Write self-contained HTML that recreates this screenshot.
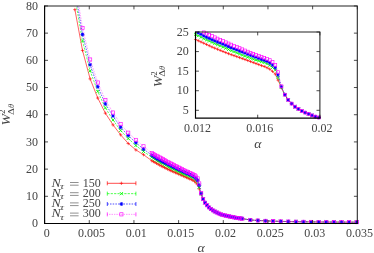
<!DOCTYPE html>
<html><head><meta charset="utf-8"><title>plot</title><style>html,body{margin:0;padding:0;background:#fff}body{width:374px;height:253px;overflow:hidden;font-family:"Liberation Serif",serif}svg{display:block;will-change:transform}</style></head><body>
<svg width="374" height="253" viewBox="0 0 374 253">
<defs><clipPath id="cm"><rect x="44.6" y="5.95" width="312.7" height="219.05"/></clipPath><clipPath id="ci"><rect x="195.5" y="32.0" width="125.39999999999998" height="87.1"/></clipPath></defs>
<rect width="374" height="253" fill="#fff"/>
<g clip-path="url(#cm)">
<path d="M74.90 9.60L82.52 50.50L90.14 78.90L97.76 98.00L105.38 113.20L113.00 124.90L120.62 134.80L128.24 143.50L135.86 149.90L143.48 154.70L151.81 160.73L153.39 161.57L154.97 162.42L156.55 163.27L158.13 164.15L159.71 165.04L161.29 165.93L162.87 166.71L164.45 167.49L166.03 168.26L167.61 169.04L169.19 169.81L170.77 170.57L172.35 171.25L173.93 171.93L175.51 172.61L177.09 173.29L178.67 173.97L180.25 174.65L181.83 175.34L183.41 176.04L184.99 176.74L186.57 177.45L188.15 178.15L189.73 178.86L191.31 179.46L192.89 180.34L194.47 181.33L196.05 182.88L197.63 184.72L199.21 188.93L201.17 194.27L203.12 199.07L205.07 202.68L207.03 205.25L208.98 207.40L210.93 209.00L212.89 210.39L214.84 211.50L216.79 212.47L218.75 213.45L220.70 214.28L222.65 214.90L224.61 215.36L226.56 215.81L228.51 216.26L230.47 216.71L232.42 217.09L234.37 217.47L236.33 217.86L238.28 218.13L240.24 218.39L242.19 218.64L250.30 219.97L257.90 220.49L265.50 220.84L273.10 221.15L280.70 221.38L288.30 221.56L295.90 221.71L303.50 221.81L311.10 221.90L318.70 221.98L326.30 222.03L333.90 222.08L341.50 222.12L349.10 222.14L356.70 222.16" stroke="#ff0000" stroke-width="0.62" fill="none"/>
</g>
<path d="M73.20 9.60H76.60M74.90 7.90V11.30" stroke="#ff0000" stroke-width="0.6" fill="none"/>
<path d="M80.82 50.50H84.22M82.52 48.80V52.20" stroke="#ff0000" stroke-width="0.6" fill="none"/>
<path d="M88.44 78.90H91.84M90.14 77.20V80.60" stroke="#ff0000" stroke-width="0.6" fill="none"/>
<path d="M96.06 98.00H99.46M97.76 96.30V99.70" stroke="#ff0000" stroke-width="0.6" fill="none"/>
<path d="M103.68 113.20H107.08M105.38 111.50V114.90" stroke="#ff0000" stroke-width="0.6" fill="none"/>
<path d="M111.30 124.90H114.70M113.00 123.20V126.60" stroke="#ff0000" stroke-width="0.6" fill="none"/>
<path d="M118.92 134.80H122.32M120.62 133.10V136.50" stroke="#ff0000" stroke-width="0.6" fill="none"/>
<path d="M126.54 143.50H129.94M128.24 141.80V145.20" stroke="#ff0000" stroke-width="0.6" fill="none"/>
<path d="M134.16 149.90H137.56M135.86 148.20V151.60" stroke="#ff0000" stroke-width="0.6" fill="none"/>
<path d="M141.78 154.70H145.18M143.48 153.00V156.40" stroke="#ff0000" stroke-width="0.6" fill="none"/>
<path d="M150.11 160.73H153.51M151.81 159.03V162.43" stroke="#ff0000" stroke-width="0.6" fill="none"/>
<path d="M151.69 161.57H155.09M153.39 159.87V163.27" stroke="#ff0000" stroke-width="0.6" fill="none"/>
<path d="M153.27 162.42H156.67M154.97 160.72V164.12" stroke="#ff0000" stroke-width="0.6" fill="none"/>
<path d="M154.85 163.27H158.25M156.55 161.57V164.97" stroke="#ff0000" stroke-width="0.6" fill="none"/>
<path d="M156.43 164.15H159.83M158.13 162.45V165.85" stroke="#ff0000" stroke-width="0.6" fill="none"/>
<path d="M158.01 165.04H161.41M159.71 163.34V166.74" stroke="#ff0000" stroke-width="0.6" fill="none"/>
<path d="M159.59 165.93H162.99M161.29 164.23V167.63" stroke="#ff0000" stroke-width="0.6" fill="none"/>
<path d="M161.17 166.71H164.57M162.87 165.01V168.41" stroke="#ff0000" stroke-width="0.6" fill="none"/>
<path d="M162.75 167.49H166.15M164.45 165.79V169.19" stroke="#ff0000" stroke-width="0.6" fill="none"/>
<path d="M164.33 168.26H167.73M166.03 166.56V169.96" stroke="#ff0000" stroke-width="0.6" fill="none"/>
<path d="M165.91 169.04H169.31M167.61 167.34V170.74" stroke="#ff0000" stroke-width="0.6" fill="none"/>
<path d="M167.49 169.81H170.89M169.19 168.11V171.51" stroke="#ff0000" stroke-width="0.6" fill="none"/>
<path d="M169.07 170.57H172.47M170.77 168.87V172.27" stroke="#ff0000" stroke-width="0.6" fill="none"/>
<path d="M170.65 171.25H174.05M172.35 169.55V172.95" stroke="#ff0000" stroke-width="0.6" fill="none"/>
<path d="M172.23 171.93H175.63M173.93 170.23V173.63" stroke="#ff0000" stroke-width="0.6" fill="none"/>
<path d="M173.81 172.61H177.21M175.51 170.91V174.31" stroke="#ff0000" stroke-width="0.6" fill="none"/>
<path d="M175.39 173.29H178.79M177.09 171.59V174.99" stroke="#ff0000" stroke-width="0.6" fill="none"/>
<path d="M176.97 173.97H180.37M178.67 172.27V175.67" stroke="#ff0000" stroke-width="0.6" fill="none"/>
<path d="M178.55 174.65H181.95M180.25 172.95V176.35" stroke="#ff0000" stroke-width="0.6" fill="none"/>
<path d="M180.13 175.34H183.53M181.83 173.64V177.04" stroke="#ff0000" stroke-width="0.6" fill="none"/>
<path d="M181.71 176.04H185.11M183.41 174.34V177.74" stroke="#ff0000" stroke-width="0.6" fill="none"/>
<path d="M183.29 176.74H186.69M184.99 175.04V178.44" stroke="#ff0000" stroke-width="0.6" fill="none"/>
<path d="M184.87 177.45H188.27M186.57 175.75V179.15" stroke="#ff0000" stroke-width="0.6" fill="none"/>
<path d="M186.45 178.15H189.85M188.15 176.45V179.85" stroke="#ff0000" stroke-width="0.6" fill="none"/>
<path d="M188.03 178.86H191.43M189.73 177.16V180.56" stroke="#ff0000" stroke-width="0.6" fill="none"/>
<path d="M189.61 179.46H193.01M191.31 177.76V181.16" stroke="#ff0000" stroke-width="0.6" fill="none"/>
<path d="M191.19 180.34H194.59M192.89 178.64V182.04" stroke="#ff0000" stroke-width="0.6" fill="none"/>
<path d="M192.77 181.33H196.17M194.47 179.63V183.03" stroke="#ff0000" stroke-width="0.6" fill="none"/>
<path d="M194.35 182.88H197.75M196.05 181.18V184.58" stroke="#ff0000" stroke-width="0.6" fill="none"/>
<path d="M195.93 184.72H199.33M197.63 183.02V186.42" stroke="#ff0000" stroke-width="0.6" fill="none"/>
<path d="M197.51 188.93H200.91M199.21 187.23V190.63" stroke="#ff0000" stroke-width="0.6" fill="none"/>
<path d="M199.47 194.27H202.87M201.17 192.57V195.97" stroke="#ff0000" stroke-width="0.6" fill="none"/>
<path d="M201.42 199.07H204.82M203.12 197.37V200.77" stroke="#ff0000" stroke-width="0.6" fill="none"/>
<path d="M203.37 202.68H206.77M205.07 200.98V204.38" stroke="#ff0000" stroke-width="0.6" fill="none"/>
<path d="M205.33 205.25H208.73M207.03 203.55V206.95" stroke="#ff0000" stroke-width="0.6" fill="none"/>
<path d="M207.28 207.40H210.68M208.98 205.70V209.10" stroke="#ff0000" stroke-width="0.6" fill="none"/>
<path d="M209.23 209.00H212.63M210.93 207.30V210.70" stroke="#ff0000" stroke-width="0.6" fill="none"/>
<path d="M211.19 210.39H214.59M212.89 208.69V212.09" stroke="#ff0000" stroke-width="0.6" fill="none"/>
<path d="M213.14 211.50H216.54M214.84 209.80V213.20" stroke="#ff0000" stroke-width="0.6" fill="none"/>
<path d="M215.09 212.47H218.49M216.79 210.77V214.17" stroke="#ff0000" stroke-width="0.6" fill="none"/>
<path d="M217.05 213.45H220.45M218.75 211.75V215.15" stroke="#ff0000" stroke-width="0.6" fill="none"/>
<path d="M219.00 214.28H222.40M220.70 212.58V215.98" stroke="#ff0000" stroke-width="0.6" fill="none"/>
<path d="M220.95 214.90H224.35M222.65 213.20V216.60" stroke="#ff0000" stroke-width="0.6" fill="none"/>
<path d="M222.91 215.36H226.31M224.61 213.66V217.06" stroke="#ff0000" stroke-width="0.6" fill="none"/>
<path d="M224.86 215.81H228.26M226.56 214.11V217.51" stroke="#ff0000" stroke-width="0.6" fill="none"/>
<path d="M226.81 216.26H230.21M228.51 214.56V217.96" stroke="#ff0000" stroke-width="0.6" fill="none"/>
<path d="M228.77 216.71H232.17M230.47 215.01V218.41" stroke="#ff0000" stroke-width="0.6" fill="none"/>
<path d="M230.72 217.09H234.12M232.42 215.39V218.79" stroke="#ff0000" stroke-width="0.6" fill="none"/>
<path d="M232.67 217.47H236.07M234.37 215.77V219.17" stroke="#ff0000" stroke-width="0.6" fill="none"/>
<path d="M234.63 217.86H238.03M236.33 216.16V219.56" stroke="#ff0000" stroke-width="0.6" fill="none"/>
<path d="M236.58 218.13H239.98M238.28 216.43V219.83" stroke="#ff0000" stroke-width="0.6" fill="none"/>
<path d="M238.54 218.39H241.94M240.24 216.69V220.09" stroke="#ff0000" stroke-width="0.6" fill="none"/>
<path d="M240.49 218.64H243.89M242.19 216.94V220.34" stroke="#ff0000" stroke-width="0.6" fill="none"/>
<path d="M248.60 219.97H252.00M250.30 218.27V221.67" stroke="#ff0000" stroke-width="0.6" fill="none"/>
<path d="M256.20 220.49H259.60M257.90 218.79V222.19" stroke="#ff0000" stroke-width="0.6" fill="none"/>
<path d="M263.80 220.84H267.20M265.50 219.14V222.54" stroke="#ff0000" stroke-width="0.6" fill="none"/>
<path d="M271.40 221.15H274.80M273.10 219.45V222.85" stroke="#ff0000" stroke-width="0.6" fill="none"/>
<path d="M279.00 221.38H282.40M280.70 219.68V223.08" stroke="#ff0000" stroke-width="0.6" fill="none"/>
<path d="M286.60 221.56H290.00M288.30 219.86V223.26" stroke="#ff0000" stroke-width="0.6" fill="none"/>
<path d="M294.20 221.71H297.60M295.90 220.01V223.41" stroke="#ff0000" stroke-width="0.6" fill="none"/>
<path d="M301.80 221.81H305.20M303.50 220.11V223.51" stroke="#ff0000" stroke-width="0.6" fill="none"/>
<path d="M309.40 221.90H312.80M311.10 220.20V223.60" stroke="#ff0000" stroke-width="0.6" fill="none"/>
<path d="M317.00 221.98H320.40M318.70 220.28V223.68" stroke="#ff0000" stroke-width="0.6" fill="none"/>
<path d="M324.60 222.03H328.00M326.30 220.33V223.73" stroke="#ff0000" stroke-width="0.6" fill="none"/>
<path d="M332.20 222.08H335.60M333.90 220.38V223.78" stroke="#ff0000" stroke-width="0.6" fill="none"/>
<path d="M339.80 222.12H343.20M341.50 220.42V223.82" stroke="#ff0000" stroke-width="0.6" fill="none"/>
<path d="M347.40 222.14H350.80M349.10 220.44V223.84" stroke="#ff0000" stroke-width="0.6" fill="none"/>
<path d="M355.00 222.16H358.40M356.70 220.46V223.86" stroke="#ff0000" stroke-width="0.6" fill="none"/>
<g clip-path="url(#cm)">
<path d="M74.90 -2.60L82.52 40.90L90.14 70.90L97.76 91.50L105.38 107.90L113.00 120.00L120.62 130.50L128.24 138.50L135.86 145.50L143.48 151.50L151.81 157.11L153.39 158.12L154.97 159.14L156.55 160.15L158.13 161.00L159.71 161.84L161.29 162.68L162.87 163.52L164.45 164.35L166.03 165.19L167.61 166.02L169.19 166.85L170.77 167.67L172.35 168.44L173.93 169.21L175.51 169.99L177.09 170.76L178.67 171.54L180.25 172.32L181.83 173.06L183.41 173.73L184.99 174.40L186.57 175.02L188.15 175.57L189.73 176.12L191.31 176.72L192.89 177.53L194.47 178.68L196.05 180.14L197.63 181.96L199.21 187.12L201.17 193.93L203.12 199.07L205.07 202.68L207.03 205.25L208.98 207.40L210.93 209.00L212.89 210.39L214.84 211.50L216.79 212.47L218.75 213.45L220.70 214.28L222.65 214.90L224.61 215.36L226.56 215.81L228.51 216.26L230.47 216.71L232.42 217.09L234.37 217.47L236.33 217.86L238.28 218.13L240.24 218.39L242.19 218.64L250.30 219.97L257.90 220.49L265.50 220.84L273.10 221.15L280.70 221.38L288.30 221.56L295.90 221.71L303.50 221.81L311.10 221.90L318.70 221.98L326.30 222.03L333.90 222.08L341.50 222.12L349.10 222.14L356.70 222.16" stroke="#00ff00" stroke-width="0.62" fill="none" stroke-dasharray="2.2,1.2"/>
</g>
<path d="M80.92 39.30L84.12 42.50M80.92 42.50L84.12 39.30" stroke="#00ff00" stroke-width="0.85" fill="none"/>
<path d="M88.54 69.30L91.74 72.50M88.54 72.50L91.74 69.30" stroke="#00ff00" stroke-width="0.85" fill="none"/>
<path d="M96.16 89.90L99.36 93.10M96.16 93.10L99.36 89.90" stroke="#00ff00" stroke-width="0.85" fill="none"/>
<path d="M103.78 106.30L106.98 109.50M103.78 109.50L106.98 106.30" stroke="#00ff00" stroke-width="0.85" fill="none"/>
<path d="M111.40 118.40L114.60 121.60M111.40 121.60L114.60 118.40" stroke="#00ff00" stroke-width="0.85" fill="none"/>
<path d="M119.02 128.90L122.22 132.10M119.02 132.10L122.22 128.90" stroke="#00ff00" stroke-width="0.85" fill="none"/>
<path d="M126.64 136.90L129.84 140.10M126.64 140.10L129.84 136.90" stroke="#00ff00" stroke-width="0.85" fill="none"/>
<path d="M134.26 143.90L137.46 147.10M134.26 147.10L137.46 143.90" stroke="#00ff00" stroke-width="0.85" fill="none"/>
<path d="M141.88 149.90L145.08 153.10M141.88 153.10L145.08 149.90" stroke="#00ff00" stroke-width="0.85" fill="none"/>
<path d="M150.21 155.51L153.41 158.71M150.21 158.71L153.41 155.51" stroke="#00ff00" stroke-width="0.85" fill="none"/>
<path d="M151.79 156.52L154.99 159.72M151.79 159.72L154.99 156.52" stroke="#00ff00" stroke-width="0.85" fill="none"/>
<path d="M153.37 157.54L156.57 160.74M153.37 160.74L156.57 157.54" stroke="#00ff00" stroke-width="0.85" fill="none"/>
<path d="M154.95 158.55L158.15 161.75M154.95 161.75L158.15 158.55" stroke="#00ff00" stroke-width="0.85" fill="none"/>
<path d="M156.53 159.40L159.73 162.60M156.53 162.60L159.73 159.40" stroke="#00ff00" stroke-width="0.85" fill="none"/>
<path d="M158.11 160.24L161.31 163.44M158.11 163.44L161.31 160.24" stroke="#00ff00" stroke-width="0.85" fill="none"/>
<path d="M159.69 161.08L162.89 164.28M159.69 164.28L162.89 161.08" stroke="#00ff00" stroke-width="0.85" fill="none"/>
<path d="M161.27 161.92L164.47 165.12M161.27 165.12L164.47 161.92" stroke="#00ff00" stroke-width="0.85" fill="none"/>
<path d="M162.85 162.75L166.05 165.95M162.85 165.95L166.05 162.75" stroke="#00ff00" stroke-width="0.85" fill="none"/>
<path d="M164.43 163.59L167.63 166.79M164.43 166.79L167.63 163.59" stroke="#00ff00" stroke-width="0.85" fill="none"/>
<path d="M166.01 164.42L169.21 167.62M166.01 167.62L169.21 164.42" stroke="#00ff00" stroke-width="0.85" fill="none"/>
<path d="M167.59 165.25L170.79 168.45M167.59 168.45L170.79 165.25" stroke="#00ff00" stroke-width="0.85" fill="none"/>
<path d="M169.17 166.07L172.37 169.27M169.17 169.27L172.37 166.07" stroke="#00ff00" stroke-width="0.85" fill="none"/>
<path d="M170.75 166.84L173.95 170.04M170.75 170.04L173.95 166.84" stroke="#00ff00" stroke-width="0.85" fill="none"/>
<path d="M172.33 167.61L175.53 170.81M172.33 170.81L175.53 167.61" stroke="#00ff00" stroke-width="0.85" fill="none"/>
<path d="M173.91 168.39L177.11 171.59M173.91 171.59L177.11 168.39" stroke="#00ff00" stroke-width="0.85" fill="none"/>
<path d="M175.49 169.16L178.69 172.36M175.49 172.36L178.69 169.16" stroke="#00ff00" stroke-width="0.85" fill="none"/>
<path d="M177.07 169.94L180.27 173.14M177.07 173.14L180.27 169.94" stroke="#00ff00" stroke-width="0.85" fill="none"/>
<path d="M178.65 170.72L181.85 173.92M178.65 173.92L181.85 170.72" stroke="#00ff00" stroke-width="0.85" fill="none"/>
<path d="M180.23 171.46L183.43 174.66M180.23 174.66L183.43 171.46" stroke="#00ff00" stroke-width="0.85" fill="none"/>
<path d="M181.81 172.13L185.01 175.33M181.81 175.33L185.01 172.13" stroke="#00ff00" stroke-width="0.85" fill="none"/>
<path d="M183.39 172.80L186.59 176.00M183.39 176.00L186.59 172.80" stroke="#00ff00" stroke-width="0.85" fill="none"/>
<path d="M184.97 173.42L188.17 176.62M184.97 176.62L188.17 173.42" stroke="#00ff00" stroke-width="0.85" fill="none"/>
<path d="M186.55 173.97L189.75 177.17M186.55 177.17L189.75 173.97" stroke="#00ff00" stroke-width="0.85" fill="none"/>
<path d="M188.13 174.52L191.33 177.72M188.13 177.72L191.33 174.52" stroke="#00ff00" stroke-width="0.85" fill="none"/>
<path d="M189.71 175.12L192.91 178.32M189.71 178.32L192.91 175.12" stroke="#00ff00" stroke-width="0.85" fill="none"/>
<path d="M191.29 175.93L194.49 179.13M191.29 179.13L194.49 175.93" stroke="#00ff00" stroke-width="0.85" fill="none"/>
<path d="M192.87 177.08L196.07 180.28M192.87 180.28L196.07 177.08" stroke="#00ff00" stroke-width="0.85" fill="none"/>
<path d="M194.45 178.54L197.65 181.74M194.45 181.74L197.65 178.54" stroke="#00ff00" stroke-width="0.85" fill="none"/>
<path d="M196.03 180.36L199.23 183.56M196.03 183.56L199.23 180.36" stroke="#00ff00" stroke-width="0.85" fill="none"/>
<path d="M197.61 185.52L200.81 188.72M197.61 188.72L200.81 185.52" stroke="#00ff00" stroke-width="0.85" fill="none"/>
<path d="M199.57 192.33L202.77 195.53M199.57 195.53L202.77 192.33" stroke="#00ff00" stroke-width="0.85" fill="none"/>
<path d="M201.52 197.47L204.72 200.67M201.52 200.67L204.72 197.47" stroke="#00ff00" stroke-width="0.85" fill="none"/>
<path d="M203.47 201.08L206.67 204.28M203.47 204.28L206.67 201.08" stroke="#00ff00" stroke-width="0.85" fill="none"/>
<path d="M205.43 203.65L208.63 206.85M205.43 206.85L208.63 203.65" stroke="#00ff00" stroke-width="0.85" fill="none"/>
<path d="M207.38 205.80L210.58 209.00M207.38 209.00L210.58 205.80" stroke="#00ff00" stroke-width="0.85" fill="none"/>
<path d="M209.33 207.40L212.53 210.60M209.33 210.60L212.53 207.40" stroke="#00ff00" stroke-width="0.85" fill="none"/>
<path d="M211.29 208.79L214.49 211.99M211.29 211.99L214.49 208.79" stroke="#00ff00" stroke-width="0.85" fill="none"/>
<path d="M213.24 209.90L216.44 213.10M213.24 213.10L216.44 209.90" stroke="#00ff00" stroke-width="0.85" fill="none"/>
<path d="M215.19 210.87L218.39 214.07M215.19 214.07L218.39 210.87" stroke="#00ff00" stroke-width="0.85" fill="none"/>
<path d="M217.15 211.85L220.35 215.05M217.15 215.05L220.35 211.85" stroke="#00ff00" stroke-width="0.85" fill="none"/>
<path d="M219.10 212.68L222.30 215.88M219.10 215.88L222.30 212.68" stroke="#00ff00" stroke-width="0.85" fill="none"/>
<path d="M221.05 213.30L224.25 216.50M221.05 216.50L224.25 213.30" stroke="#00ff00" stroke-width="0.85" fill="none"/>
<path d="M223.01 213.76L226.21 216.96M223.01 216.96L226.21 213.76" stroke="#00ff00" stroke-width="0.85" fill="none"/>
<path d="M224.96 214.21L228.16 217.41M224.96 217.41L228.16 214.21" stroke="#00ff00" stroke-width="0.85" fill="none"/>
<path d="M226.91 214.66L230.11 217.86M226.91 217.86L230.11 214.66" stroke="#00ff00" stroke-width="0.85" fill="none"/>
<path d="M228.87 215.11L232.07 218.31M228.87 218.31L232.07 215.11" stroke="#00ff00" stroke-width="0.85" fill="none"/>
<path d="M230.82 215.49L234.02 218.69M230.82 218.69L234.02 215.49" stroke="#00ff00" stroke-width="0.85" fill="none"/>
<path d="M232.77 215.87L235.97 219.07M232.77 219.07L235.97 215.87" stroke="#00ff00" stroke-width="0.85" fill="none"/>
<path d="M234.73 216.26L237.93 219.46M234.73 219.46L237.93 216.26" stroke="#00ff00" stroke-width="0.85" fill="none"/>
<path d="M236.68 216.53L239.88 219.73M236.68 219.73L239.88 216.53" stroke="#00ff00" stroke-width="0.85" fill="none"/>
<path d="M238.64 216.79L241.84 219.99M238.64 219.99L241.84 216.79" stroke="#00ff00" stroke-width="0.85" fill="none"/>
<path d="M240.59 217.04L243.79 220.24M240.59 220.24L243.79 217.04" stroke="#00ff00" stroke-width="0.85" fill="none"/>
<path d="M248.70 218.37L251.90 221.57M248.70 221.57L251.90 218.37" stroke="#00ff00" stroke-width="0.85" fill="none"/>
<path d="M256.30 218.89L259.50 222.09M256.30 222.09L259.50 218.89" stroke="#00ff00" stroke-width="0.85" fill="none"/>
<path d="M263.90 219.24L267.10 222.44M263.90 222.44L267.10 219.24" stroke="#00ff00" stroke-width="0.85" fill="none"/>
<path d="M271.50 219.55L274.70 222.75M271.50 222.75L274.70 219.55" stroke="#00ff00" stroke-width="0.85" fill="none"/>
<path d="M279.10 219.78L282.30 222.98M279.10 222.98L282.30 219.78" stroke="#00ff00" stroke-width="0.85" fill="none"/>
<path d="M286.70 219.96L289.90 223.16M286.70 223.16L289.90 219.96" stroke="#00ff00" stroke-width="0.85" fill="none"/>
<path d="M294.30 220.11L297.50 223.31M294.30 223.31L297.50 220.11" stroke="#00ff00" stroke-width="0.85" fill="none"/>
<path d="M301.90 220.21L305.10 223.41M301.90 223.41L305.10 220.21" stroke="#00ff00" stroke-width="0.85" fill="none"/>
<path d="M309.50 220.30L312.70 223.50M309.50 223.50L312.70 220.30" stroke="#00ff00" stroke-width="0.85" fill="none"/>
<path d="M317.10 220.38L320.30 223.58M317.10 223.58L320.30 220.38" stroke="#00ff00" stroke-width="0.85" fill="none"/>
<path d="M324.70 220.43L327.90 223.63M324.70 223.63L327.90 220.43" stroke="#00ff00" stroke-width="0.85" fill="none"/>
<path d="M332.30 220.48L335.50 223.68M332.30 223.68L335.50 220.48" stroke="#00ff00" stroke-width="0.85" fill="none"/>
<path d="M339.90 220.52L343.10 223.72M339.90 223.72L343.10 220.52" stroke="#00ff00" stroke-width="0.85" fill="none"/>
<path d="M347.50 220.54L350.70 223.74M347.50 223.74L350.70 220.54" stroke="#00ff00" stroke-width="0.85" fill="none"/>
<path d="M355.10 220.56L358.30 223.76M355.10 223.76L358.30 220.56" stroke="#00ff00" stroke-width="0.85" fill="none"/>
<g clip-path="url(#cm)">
<path d="M74.90 -9.70L82.52 34.40L90.14 64.80L97.76 86.70L105.38 103.90L113.00 116.00L120.62 127.30L128.24 135.50L135.86 142.70L143.48 149.10L151.81 155.10L153.39 156.09L154.97 157.14L156.55 158.20L158.13 159.10L159.71 159.98L161.29 160.86L162.87 161.64L164.45 162.42L166.03 163.20L167.61 163.98L169.19 164.78L170.77 165.60L172.35 166.41L173.93 167.18L175.51 167.93L177.09 168.68L178.67 169.43L180.25 170.18L181.83 170.92L183.41 171.63L184.99 172.35L186.57 173.06L188.15 173.76L189.73 174.46L191.31 175.15L192.89 175.92L194.47 177.01L196.05 178.40L197.63 180.28L199.21 185.24L201.17 193.58L203.12 199.07L205.07 202.68L207.03 205.25L208.98 207.40L210.93 209.00L212.89 210.39L214.84 211.50L216.79 212.47L218.75 213.45L220.70 214.28L222.65 214.90L224.61 215.36L226.56 215.81L228.51 216.26L230.47 216.71L232.42 217.09L234.37 217.47L236.33 217.86L238.28 218.13L240.24 218.39L242.19 218.64L250.30 219.97L257.90 220.49L265.50 220.84L273.10 221.15L280.70 221.38L288.30 221.56L295.90 221.71L303.50 221.81L311.10 221.90L318.70 221.98L326.30 222.03L333.90 222.08L341.50 222.12L349.10 222.14L356.70 222.16" stroke="#0000ff" stroke-width="0.62" fill="none" stroke-dasharray="1.5,1.2"/>
</g>
<path d="M80.62 34.40H84.42M82.52 32.50V36.30M81.07 32.95L83.97 35.85M81.07 35.85L83.97 32.95" stroke="#0000ff" stroke-width="0.8999999999999999" fill="none"/><circle cx="82.52" cy="34.40" r="0.95" fill="#0000ff"/>
<path d="M88.24 64.80H92.04M90.14 62.90V66.70M88.69 63.35L91.59 66.25M88.69 66.25L91.59 63.35" stroke="#0000ff" stroke-width="0.8999999999999999" fill="none"/><circle cx="90.14" cy="64.80" r="0.95" fill="#0000ff"/>
<path d="M95.86 86.70H99.66M97.76 84.80V88.60M96.31 85.25L99.21 88.15M96.31 88.15L99.21 85.25" stroke="#0000ff" stroke-width="0.8999999999999999" fill="none"/><circle cx="97.76" cy="86.70" r="0.95" fill="#0000ff"/>
<path d="M103.48 103.90H107.28M105.38 102.00V105.80M103.93 102.45L106.83 105.35M103.93 105.35L106.83 102.45" stroke="#0000ff" stroke-width="0.8999999999999999" fill="none"/><circle cx="105.38" cy="103.90" r="0.95" fill="#0000ff"/>
<path d="M111.10 116.00H114.90M113.00 114.10V117.90M111.55 114.55L114.45 117.45M111.55 117.45L114.45 114.55" stroke="#0000ff" stroke-width="0.8999999999999999" fill="none"/><circle cx="113.00" cy="116.00" r="0.95" fill="#0000ff"/>
<path d="M118.72 127.30H122.52M120.62 125.40V129.20M119.17 125.85L122.07 128.75M119.17 128.75L122.07 125.85" stroke="#0000ff" stroke-width="0.8999999999999999" fill="none"/><circle cx="120.62" cy="127.30" r="0.95" fill="#0000ff"/>
<path d="M126.34 135.50H130.14M128.24 133.60V137.40M126.79 134.05L129.69 136.95M126.79 136.95L129.69 134.05" stroke="#0000ff" stroke-width="0.8999999999999999" fill="none"/><circle cx="128.24" cy="135.50" r="0.95" fill="#0000ff"/>
<path d="M133.96 142.70H137.76M135.86 140.80V144.60M134.41 141.25L137.31 144.15M134.41 144.15L137.31 141.25" stroke="#0000ff" stroke-width="0.8999999999999999" fill="none"/><circle cx="135.86" cy="142.70" r="0.95" fill="#0000ff"/>
<path d="M141.58 149.10H145.38M143.48 147.20V151.00M142.03 147.65L144.93 150.55M142.03 150.55L144.93 147.65" stroke="#0000ff" stroke-width="0.8999999999999999" fill="none"/><circle cx="143.48" cy="149.10" r="0.95" fill="#0000ff"/>
<path d="M149.91 155.10H153.71M151.81 153.20V157.00M150.36 153.65L153.26 156.55M150.36 156.55L153.26 153.65" stroke="#0000ff" stroke-width="0.8999999999999999" fill="none"/><circle cx="151.81" cy="155.10" r="0.95" fill="#0000ff"/>
<path d="M151.49 156.09H155.29M153.39 154.19V157.99M151.94 154.64L154.84 157.54M151.94 157.54L154.84 154.64" stroke="#0000ff" stroke-width="0.8999999999999999" fill="none"/><circle cx="153.39" cy="156.09" r="0.95" fill="#0000ff"/>
<path d="M153.07 157.14H156.87M154.97 155.24V159.04M153.52 155.69L156.42 158.59M153.52 158.59L156.42 155.69" stroke="#0000ff" stroke-width="0.8999999999999999" fill="none"/><circle cx="154.97" cy="157.14" r="0.95" fill="#0000ff"/>
<path d="M154.65 158.20H158.45M156.55 156.30V160.10M155.10 156.75L158.00 159.65M155.10 159.65L158.00 156.75" stroke="#0000ff" stroke-width="0.8999999999999999" fill="none"/><circle cx="156.55" cy="158.20" r="0.95" fill="#0000ff"/>
<path d="M156.23 159.10H160.03M158.13 157.20V161.00M156.68 157.65L159.58 160.55M156.68 160.55L159.58 157.65" stroke="#0000ff" stroke-width="0.8999999999999999" fill="none"/><circle cx="158.13" cy="159.10" r="0.95" fill="#0000ff"/>
<path d="M157.81 159.98H161.61M159.71 158.08V161.88M158.26 158.53L161.16 161.43M158.26 161.43L161.16 158.53" stroke="#0000ff" stroke-width="0.8999999999999999" fill="none"/><circle cx="159.71" cy="159.98" r="0.95" fill="#0000ff"/>
<path d="M159.39 160.86H163.19M161.29 158.96V162.76M159.84 159.41L162.74 162.31M159.84 162.31L162.74 159.41" stroke="#0000ff" stroke-width="0.8999999999999999" fill="none"/><circle cx="161.29" cy="160.86" r="0.95" fill="#0000ff"/>
<path d="M160.97 161.64H164.77M162.87 159.74V163.54M161.42 160.19L164.32 163.09M161.42 163.09L164.32 160.19" stroke="#0000ff" stroke-width="0.8999999999999999" fill="none"/><circle cx="162.87" cy="161.64" r="0.95" fill="#0000ff"/>
<path d="M162.55 162.42H166.35M164.45 160.52V164.32M163.00 160.97L165.90 163.87M163.00 163.87L165.90 160.97" stroke="#0000ff" stroke-width="0.8999999999999999" fill="none"/><circle cx="164.45" cy="162.42" r="0.95" fill="#0000ff"/>
<path d="M164.13 163.20H167.93M166.03 161.30V165.10M164.58 161.75L167.48 164.65M164.58 164.65L167.48 161.75" stroke="#0000ff" stroke-width="0.8999999999999999" fill="none"/><circle cx="166.03" cy="163.20" r="0.95" fill="#0000ff"/>
<path d="M165.71 163.98H169.51M167.61 162.08V165.88M166.16 162.53L169.06 165.43M166.16 165.43L169.06 162.53" stroke="#0000ff" stroke-width="0.8999999999999999" fill="none"/><circle cx="167.61" cy="163.98" r="0.95" fill="#0000ff"/>
<path d="M167.29 164.78H171.09M169.19 162.88V166.68M167.74 163.33L170.64 166.23M167.74 166.23L170.64 163.33" stroke="#0000ff" stroke-width="0.8999999999999999" fill="none"/><circle cx="169.19" cy="164.78" r="0.95" fill="#0000ff"/>
<path d="M168.87 165.60H172.67M170.77 163.70V167.50M169.32 164.15L172.22 167.05M169.32 167.05L172.22 164.15" stroke="#0000ff" stroke-width="0.8999999999999999" fill="none"/><circle cx="170.77" cy="165.60" r="0.95" fill="#0000ff"/>
<path d="M170.45 166.41H174.25M172.35 164.51V168.31M170.90 164.96L173.80 167.86M170.90 167.86L173.80 164.96" stroke="#0000ff" stroke-width="0.8999999999999999" fill="none"/><circle cx="172.35" cy="166.41" r="0.95" fill="#0000ff"/>
<path d="M172.03 167.18H175.83M173.93 165.28V169.08M172.48 165.73L175.38 168.63M172.48 168.63L175.38 165.73" stroke="#0000ff" stroke-width="0.8999999999999999" fill="none"/><circle cx="173.93" cy="167.18" r="0.95" fill="#0000ff"/>
<path d="M173.61 167.93H177.41M175.51 166.03V169.83M174.06 166.48L176.96 169.38M174.06 169.38L176.96 166.48" stroke="#0000ff" stroke-width="0.8999999999999999" fill="none"/><circle cx="175.51" cy="167.93" r="0.95" fill="#0000ff"/>
<path d="M175.19 168.68H178.99M177.09 166.78V170.58M175.64 167.23L178.54 170.13M175.64 170.13L178.54 167.23" stroke="#0000ff" stroke-width="0.8999999999999999" fill="none"/><circle cx="177.09" cy="168.68" r="0.95" fill="#0000ff"/>
<path d="M176.77 169.43H180.57M178.67 167.53V171.33M177.22 167.98L180.12 170.88M177.22 170.88L180.12 167.98" stroke="#0000ff" stroke-width="0.8999999999999999" fill="none"/><circle cx="178.67" cy="169.43" r="0.95" fill="#0000ff"/>
<path d="M178.35 170.18H182.15M180.25 168.28V172.08M178.80 168.73L181.70 171.63M178.80 171.63L181.70 168.73" stroke="#0000ff" stroke-width="0.8999999999999999" fill="none"/><circle cx="180.25" cy="170.18" r="0.95" fill="#0000ff"/>
<path d="M179.93 170.92H183.73M181.83 169.02V172.82M180.38 169.47L183.28 172.37M180.38 172.37L183.28 169.47" stroke="#0000ff" stroke-width="0.8999999999999999" fill="none"/><circle cx="181.83" cy="170.92" r="0.95" fill="#0000ff"/>
<path d="M181.51 171.63H185.31M183.41 169.73V173.53M181.96 170.18L184.86 173.08M181.96 173.08L184.86 170.18" stroke="#0000ff" stroke-width="0.8999999999999999" fill="none"/><circle cx="183.41" cy="171.63" r="0.95" fill="#0000ff"/>
<path d="M183.09 172.35H186.89M184.99 170.45V174.25M183.54 170.90L186.44 173.80M183.54 173.80L186.44 170.90" stroke="#0000ff" stroke-width="0.8999999999999999" fill="none"/><circle cx="184.99" cy="172.35" r="0.95" fill="#0000ff"/>
<path d="M184.67 173.06H188.47M186.57 171.16V174.96M185.12 171.61L188.02 174.51M185.12 174.51L188.02 171.61" stroke="#0000ff" stroke-width="0.8999999999999999" fill="none"/><circle cx="186.57" cy="173.06" r="0.95" fill="#0000ff"/>
<path d="M186.25 173.76H190.05M188.15 171.86V175.66M186.70 172.31L189.60 175.21M186.70 175.21L189.60 172.31" stroke="#0000ff" stroke-width="0.8999999999999999" fill="none"/><circle cx="188.15" cy="173.76" r="0.95" fill="#0000ff"/>
<path d="M187.83 174.46H191.63M189.73 172.56V176.36M188.28 173.01L191.18 175.91M188.28 175.91L191.18 173.01" stroke="#0000ff" stroke-width="0.8999999999999999" fill="none"/><circle cx="189.73" cy="174.46" r="0.95" fill="#0000ff"/>
<path d="M189.41 175.15H193.21M191.31 173.25V177.05M189.86 173.70L192.76 176.60M189.86 176.60L192.76 173.70" stroke="#0000ff" stroke-width="0.8999999999999999" fill="none"/><circle cx="191.31" cy="175.15" r="0.95" fill="#0000ff"/>
<path d="M190.99 175.92H194.79M192.89 174.02V177.82M191.44 174.47L194.34 177.37M191.44 177.37L194.34 174.47" stroke="#0000ff" stroke-width="0.8999999999999999" fill="none"/><circle cx="192.89" cy="175.92" r="0.95" fill="#0000ff"/>
<path d="M192.57 177.01H196.37M194.47 175.11V178.91M193.02 175.56L195.92 178.46M193.02 178.46L195.92 175.56" stroke="#0000ff" stroke-width="0.8999999999999999" fill="none"/><circle cx="194.47" cy="177.01" r="0.95" fill="#0000ff"/>
<path d="M194.15 178.40H197.95M196.05 176.50V180.30M194.60 176.95L197.50 179.85M194.60 179.85L197.50 176.95" stroke="#0000ff" stroke-width="0.8999999999999999" fill="none"/><circle cx="196.05" cy="178.40" r="0.95" fill="#0000ff"/>
<path d="M195.73 180.28H199.53M197.63 178.38V182.18M196.18 178.83L199.08 181.73M196.18 181.73L199.08 178.83" stroke="#0000ff" stroke-width="0.8999999999999999" fill="none"/><circle cx="197.63" cy="180.28" r="0.95" fill="#0000ff"/>
<path d="M197.31 185.24H201.11M199.21 183.34V187.14M197.76 183.79L200.66 186.69M197.76 186.69L200.66 183.79" stroke="#0000ff" stroke-width="0.8999999999999999" fill="none"/><circle cx="199.21" cy="185.24" r="0.95" fill="#0000ff"/>
<path d="M199.27 193.58H203.07M201.17 191.68V195.48M199.72 192.13L202.62 195.03M199.72 195.03L202.62 192.13" stroke="#0000ff" stroke-width="0.8999999999999999" fill="none"/><circle cx="201.17" cy="193.58" r="0.95" fill="#0000ff"/>
<path d="M201.22 199.07H205.02M203.12 197.17V200.97M201.67 197.62L204.57 200.52M201.67 200.52L204.57 197.62" stroke="#0000ff" stroke-width="0.8999999999999999" fill="none"/><circle cx="203.12" cy="199.07" r="0.95" fill="#0000ff"/>
<path d="M203.17 202.68H206.97M205.07 200.78V204.58M203.62 201.23L206.52 204.13M203.62 204.13L206.52 201.23" stroke="#0000ff" stroke-width="0.8999999999999999" fill="none"/><circle cx="205.07" cy="202.68" r="0.95" fill="#0000ff"/>
<path d="M205.13 205.25H208.93M207.03 203.35V207.15M205.58 203.80L208.48 206.70M205.58 206.70L208.48 203.80" stroke="#0000ff" stroke-width="0.8999999999999999" fill="none"/><circle cx="207.03" cy="205.25" r="0.95" fill="#0000ff"/>
<path d="M207.08 207.40H210.88M208.98 205.50V209.30M207.53 205.95L210.43 208.85M207.53 208.85L210.43 205.95" stroke="#0000ff" stroke-width="0.8999999999999999" fill="none"/><circle cx="208.98" cy="207.40" r="0.95" fill="#0000ff"/>
<path d="M209.03 209.00H212.83M210.93 207.10V210.90M209.48 207.55L212.38 210.45M209.48 210.45L212.38 207.55" stroke="#0000ff" stroke-width="0.8999999999999999" fill="none"/><circle cx="210.93" cy="209.00" r="0.95" fill="#0000ff"/>
<path d="M210.99 210.39H214.79M212.89 208.49V212.29M211.44 208.94L214.34 211.84M211.44 211.84L214.34 208.94" stroke="#0000ff" stroke-width="0.8999999999999999" fill="none"/><circle cx="212.89" cy="210.39" r="0.95" fill="#0000ff"/>
<path d="M212.94 211.50H216.74M214.84 209.60V213.40M213.39 210.05L216.29 212.95M213.39 212.95L216.29 210.05" stroke="#0000ff" stroke-width="0.8999999999999999" fill="none"/><circle cx="214.84" cy="211.50" r="0.95" fill="#0000ff"/>
<path d="M214.89 212.47H218.69M216.79 210.57V214.37M215.34 211.02L218.24 213.92M215.34 213.92L218.24 211.02" stroke="#0000ff" stroke-width="0.8999999999999999" fill="none"/><circle cx="216.79" cy="212.47" r="0.95" fill="#0000ff"/>
<path d="M216.85 213.45H220.65M218.75 211.55V215.35M217.30 212.00L220.20 214.90M217.30 214.90L220.20 212.00" stroke="#0000ff" stroke-width="0.8999999999999999" fill="none"/><circle cx="218.75" cy="213.45" r="0.95" fill="#0000ff"/>
<path d="M218.80 214.28H222.60M220.70 212.38V216.18M219.25 212.83L222.15 215.73M219.25 215.73L222.15 212.83" stroke="#0000ff" stroke-width="0.8999999999999999" fill="none"/><circle cx="220.70" cy="214.28" r="0.95" fill="#0000ff"/>
<path d="M220.75 214.90H224.55M222.65 213.00V216.80M221.20 213.45L224.10 216.35M221.20 216.35L224.10 213.45" stroke="#0000ff" stroke-width="0.8999999999999999" fill="none"/><circle cx="222.65" cy="214.90" r="0.95" fill="#0000ff"/>
<path d="M222.71 215.36H226.51M224.61 213.46V217.26M223.16 213.91L226.06 216.81M223.16 216.81L226.06 213.91" stroke="#0000ff" stroke-width="0.8999999999999999" fill="none"/><circle cx="224.61" cy="215.36" r="0.95" fill="#0000ff"/>
<path d="M224.66 215.81H228.46M226.56 213.91V217.71M225.11 214.36L228.01 217.26M225.11 217.26L228.01 214.36" stroke="#0000ff" stroke-width="0.8999999999999999" fill="none"/><circle cx="226.56" cy="215.81" r="0.95" fill="#0000ff"/>
<path d="M226.61 216.26H230.41M228.51 214.36V218.16M227.06 214.81L229.96 217.71M227.06 217.71L229.96 214.81" stroke="#0000ff" stroke-width="0.8999999999999999" fill="none"/><circle cx="228.51" cy="216.26" r="0.95" fill="#0000ff"/>
<path d="M228.57 216.71H232.37M230.47 214.81V218.61M229.02 215.26L231.92 218.16M229.02 218.16L231.92 215.26" stroke="#0000ff" stroke-width="0.8999999999999999" fill="none"/><circle cx="230.47" cy="216.71" r="0.95" fill="#0000ff"/>
<path d="M230.52 217.09H234.32M232.42 215.19V218.99M230.97 215.64L233.87 218.54M230.97 218.54L233.87 215.64" stroke="#0000ff" stroke-width="0.8999999999999999" fill="none"/><circle cx="232.42" cy="217.09" r="0.95" fill="#0000ff"/>
<path d="M232.47 217.47H236.27M234.37 215.57V219.37M232.92 216.02L235.82 218.92M232.92 218.92L235.82 216.02" stroke="#0000ff" stroke-width="0.8999999999999999" fill="none"/><circle cx="234.37" cy="217.47" r="0.95" fill="#0000ff"/>
<path d="M234.43 217.86H238.23M236.33 215.96V219.76M234.88 216.41L237.78 219.31M234.88 219.31L237.78 216.41" stroke="#0000ff" stroke-width="0.8999999999999999" fill="none"/><circle cx="236.33" cy="217.86" r="0.95" fill="#0000ff"/>
<path d="M236.38 218.13H240.18M238.28 216.23V220.03M236.83 216.68L239.73 219.58M236.83 219.58L239.73 216.68" stroke="#0000ff" stroke-width="0.8999999999999999" fill="none"/><circle cx="238.28" cy="218.13" r="0.95" fill="#0000ff"/>
<path d="M238.34 218.39H242.14M240.24 216.49V220.29M238.79 216.94L241.69 219.84M238.79 219.84L241.69 216.94" stroke="#0000ff" stroke-width="0.8999999999999999" fill="none"/><circle cx="240.24" cy="218.39" r="0.95" fill="#0000ff"/>
<path d="M240.29 218.64H244.09M242.19 216.74V220.54M240.74 217.19L243.64 220.09M240.74 220.09L243.64 217.19" stroke="#0000ff" stroke-width="0.8999999999999999" fill="none"/><circle cx="242.19" cy="218.64" r="0.95" fill="#0000ff"/>
<path d="M248.40 219.97H252.20M250.30 218.07V221.87M248.85 218.52L251.75 221.42M248.85 221.42L251.75 218.52" stroke="#0000ff" stroke-width="0.8999999999999999" fill="none"/><circle cx="250.30" cy="219.97" r="0.95" fill="#0000ff"/>
<path d="M256.00 220.49H259.80M257.90 218.59V222.39M256.45 219.04L259.35 221.94M256.45 221.94L259.35 219.04" stroke="#0000ff" stroke-width="0.8999999999999999" fill="none"/><circle cx="257.90" cy="220.49" r="0.95" fill="#0000ff"/>
<path d="M263.60 220.84H267.40M265.50 218.94V222.74M264.05 219.39L266.95 222.29M264.05 222.29L266.95 219.39" stroke="#0000ff" stroke-width="0.8999999999999999" fill="none"/><circle cx="265.50" cy="220.84" r="0.95" fill="#0000ff"/>
<path d="M271.20 221.15H275.00M273.10 219.25V223.05M271.65 219.70L274.55 222.60M271.65 222.60L274.55 219.70" stroke="#0000ff" stroke-width="0.8999999999999999" fill="none"/><circle cx="273.10" cy="221.15" r="0.95" fill="#0000ff"/>
<path d="M278.80 221.38H282.60M280.70 219.48V223.28M279.25 219.93L282.15 222.83M279.25 222.83L282.15 219.93" stroke="#0000ff" stroke-width="0.8999999999999999" fill="none"/><circle cx="280.70" cy="221.38" r="0.95" fill="#0000ff"/>
<path d="M286.40 221.56H290.20M288.30 219.66V223.46M286.85 220.11L289.75 223.01M286.85 223.01L289.75 220.11" stroke="#0000ff" stroke-width="0.8999999999999999" fill="none"/><circle cx="288.30" cy="221.56" r="0.95" fill="#0000ff"/>
<path d="M294.00 221.71H297.80M295.90 219.81V223.61M294.45 220.26L297.35 223.16M294.45 223.16L297.35 220.26" stroke="#0000ff" stroke-width="0.8999999999999999" fill="none"/><circle cx="295.90" cy="221.71" r="0.95" fill="#0000ff"/>
<path d="M301.60 221.81H305.40M303.50 219.91V223.71M302.05 220.36L304.95 223.26M302.05 223.26L304.95 220.36" stroke="#0000ff" stroke-width="0.8999999999999999" fill="none"/><circle cx="303.50" cy="221.81" r="0.95" fill="#0000ff"/>
<path d="M309.20 221.90H313.00M311.10 220.00V223.80M309.65 220.45L312.55 223.35M309.65 223.35L312.55 220.45" stroke="#0000ff" stroke-width="0.8999999999999999" fill="none"/><circle cx="311.10" cy="221.90" r="0.95" fill="#0000ff"/>
<path d="M316.80 221.98H320.60M318.70 220.08V223.88M317.25 220.53L320.15 223.43M317.25 223.43L320.15 220.53" stroke="#0000ff" stroke-width="0.8999999999999999" fill="none"/><circle cx="318.70" cy="221.98" r="0.95" fill="#0000ff"/>
<path d="M324.40 222.03H328.20M326.30 220.13V223.93M324.85 220.58L327.75 223.48M324.85 223.48L327.75 220.58" stroke="#0000ff" stroke-width="0.8999999999999999" fill="none"/><circle cx="326.30" cy="222.03" r="0.95" fill="#0000ff"/>
<path d="M332.00 222.08H335.80M333.90 220.18V223.98M332.45 220.63L335.35 223.53M332.45 223.53L335.35 220.63" stroke="#0000ff" stroke-width="0.8999999999999999" fill="none"/><circle cx="333.90" cy="222.08" r="0.95" fill="#0000ff"/>
<path d="M339.60 222.12H343.40M341.50 220.22V224.02M340.05 220.67L342.95 223.57M340.05 223.57L342.95 220.67" stroke="#0000ff" stroke-width="0.8999999999999999" fill="none"/><circle cx="341.50" cy="222.12" r="0.95" fill="#0000ff"/>
<path d="M347.20 222.14H351.00M349.10 220.24V224.04M347.65 220.69L350.55 223.59M347.65 223.59L350.55 220.69" stroke="#0000ff" stroke-width="0.8999999999999999" fill="none"/><circle cx="349.10" cy="222.14" r="0.95" fill="#0000ff"/>
<path d="M354.80 222.16H358.60M356.70 220.26V224.06M355.25 220.71L358.15 223.61M355.25 223.61L358.15 220.71" stroke="#0000ff" stroke-width="0.8999999999999999" fill="none"/><circle cx="356.70" cy="222.16" r="0.95" fill="#0000ff"/>
<g clip-path="url(#cm)">
<path d="M74.90 -18.40L82.52 28.00L90.14 59.50L97.76 82.50L105.38 99.90L113.00 112.50L120.62 124.10L128.24 132.70L135.86 139.90L143.48 146.30L151.81 153.22L153.39 154.08L154.97 154.93L156.55 155.79L158.13 156.64L159.71 157.50L161.29 158.36L162.87 159.23L164.45 160.11L166.03 160.99L167.61 161.86L169.19 162.70L170.77 163.51L172.35 164.31L173.93 165.12L175.51 165.92L177.09 166.73L178.67 167.56L180.25 168.39L181.83 169.20L183.41 169.96L184.99 170.73L186.57 171.49L188.15 172.24L189.73 172.93L191.31 173.62L192.89 174.30L194.47 175.09L196.05 176.44L197.63 178.40L199.21 183.44L201.17 193.23L203.12 199.07L205.07 202.68L207.03 205.25L208.98 207.40L210.93 209.00L212.89 210.39L214.84 211.50L216.79 212.47L218.75 213.45L220.70 214.28L222.65 214.90L224.61 215.36L226.56 215.81L228.51 216.26L230.47 216.71L232.42 217.09L234.37 217.47L236.33 217.86L238.28 218.13L240.24 218.39L242.19 218.64L250.30 219.97L257.90 220.49L265.50 220.84L273.10 221.15L280.70 221.38L288.30 221.56L295.90 221.71L303.50 221.81L311.10 221.90L318.70 221.98L326.30 222.03L333.90 222.08L341.50 222.12L349.10 222.14L356.70 222.16" stroke="#ff00ff" stroke-width="0.62" fill="none" stroke-dasharray="0.6,1.1"/>
</g>
<rect x="80.92" y="26.40" width="3.20" height="3.20" stroke="#ff00ff" stroke-width="0.65" fill="none"/>
<rect x="88.54" y="57.90" width="3.20" height="3.20" stroke="#ff00ff" stroke-width="0.65" fill="none"/>
<rect x="96.16" y="80.90" width="3.20" height="3.20" stroke="#ff00ff" stroke-width="0.65" fill="none"/>
<rect x="103.78" y="98.30" width="3.20" height="3.20" stroke="#ff00ff" stroke-width="0.65" fill="none"/>
<rect x="111.40" y="110.90" width="3.20" height="3.20" stroke="#ff00ff" stroke-width="0.65" fill="none"/>
<rect x="119.02" y="122.50" width="3.20" height="3.20" stroke="#ff00ff" stroke-width="0.65" fill="none"/>
<rect x="126.64" y="131.10" width="3.20" height="3.20" stroke="#ff00ff" stroke-width="0.65" fill="none"/>
<rect x="134.26" y="138.30" width="3.20" height="3.20" stroke="#ff00ff" stroke-width="0.65" fill="none"/>
<rect x="141.88" y="144.70" width="3.20" height="3.20" stroke="#ff00ff" stroke-width="0.65" fill="none"/>
<rect x="150.21" y="151.62" width="3.20" height="3.20" stroke="#ff00ff" stroke-width="0.65" fill="none"/>
<rect x="151.79" y="152.48" width="3.20" height="3.20" stroke="#ff00ff" stroke-width="0.65" fill="none"/>
<rect x="153.37" y="153.33" width="3.20" height="3.20" stroke="#ff00ff" stroke-width="0.65" fill="none"/>
<rect x="154.95" y="154.19" width="3.20" height="3.20" stroke="#ff00ff" stroke-width="0.65" fill="none"/>
<rect x="156.53" y="155.04" width="3.20" height="3.20" stroke="#ff00ff" stroke-width="0.65" fill="none"/>
<rect x="158.11" y="155.90" width="3.20" height="3.20" stroke="#ff00ff" stroke-width="0.65" fill="none"/>
<rect x="159.69" y="156.76" width="3.20" height="3.20" stroke="#ff00ff" stroke-width="0.65" fill="none"/>
<rect x="161.27" y="157.63" width="3.20" height="3.20" stroke="#ff00ff" stroke-width="0.65" fill="none"/>
<rect x="162.85" y="158.51" width="3.20" height="3.20" stroke="#ff00ff" stroke-width="0.65" fill="none"/>
<rect x="164.43" y="159.39" width="3.20" height="3.20" stroke="#ff00ff" stroke-width="0.65" fill="none"/>
<rect x="166.01" y="160.26" width="3.20" height="3.20" stroke="#ff00ff" stroke-width="0.65" fill="none"/>
<rect x="167.59" y="161.10" width="3.20" height="3.20" stroke="#ff00ff" stroke-width="0.65" fill="none"/>
<rect x="169.17" y="161.91" width="3.20" height="3.20" stroke="#ff00ff" stroke-width="0.65" fill="none"/>
<rect x="170.75" y="162.71" width="3.20" height="3.20" stroke="#ff00ff" stroke-width="0.65" fill="none"/>
<rect x="172.33" y="163.52" width="3.20" height="3.20" stroke="#ff00ff" stroke-width="0.65" fill="none"/>
<rect x="173.91" y="164.32" width="3.20" height="3.20" stroke="#ff00ff" stroke-width="0.65" fill="none"/>
<rect x="175.49" y="165.13" width="3.20" height="3.20" stroke="#ff00ff" stroke-width="0.65" fill="none"/>
<rect x="177.07" y="165.96" width="3.20" height="3.20" stroke="#ff00ff" stroke-width="0.65" fill="none"/>
<rect x="178.65" y="166.79" width="3.20" height="3.20" stroke="#ff00ff" stroke-width="0.65" fill="none"/>
<rect x="180.23" y="167.60" width="3.20" height="3.20" stroke="#ff00ff" stroke-width="0.65" fill="none"/>
<rect x="181.81" y="168.36" width="3.20" height="3.20" stroke="#ff00ff" stroke-width="0.65" fill="none"/>
<rect x="183.39" y="169.13" width="3.20" height="3.20" stroke="#ff00ff" stroke-width="0.65" fill="none"/>
<rect x="184.97" y="169.89" width="3.20" height="3.20" stroke="#ff00ff" stroke-width="0.65" fill="none"/>
<rect x="186.55" y="170.64" width="3.20" height="3.20" stroke="#ff00ff" stroke-width="0.65" fill="none"/>
<rect x="188.13" y="171.33" width="3.20" height="3.20" stroke="#ff00ff" stroke-width="0.65" fill="none"/>
<rect x="189.71" y="172.02" width="3.20" height="3.20" stroke="#ff00ff" stroke-width="0.65" fill="none"/>
<rect x="191.29" y="172.70" width="3.20" height="3.20" stroke="#ff00ff" stroke-width="0.65" fill="none"/>
<rect x="192.87" y="173.49" width="3.20" height="3.20" stroke="#ff00ff" stroke-width="0.65" fill="none"/>
<rect x="194.45" y="174.84" width="3.20" height="3.20" stroke="#ff00ff" stroke-width="0.65" fill="none"/>
<rect x="196.03" y="176.80" width="3.20" height="3.20" stroke="#ff00ff" stroke-width="0.65" fill="none"/>
<rect x="197.61" y="181.84" width="3.20" height="3.20" stroke="#ff00ff" stroke-width="0.65" fill="none"/>
<rect x="199.57" y="191.63" width="3.20" height="3.20" stroke="#ff00ff" stroke-width="0.65" fill="none"/>
<rect x="201.52" y="197.47" width="3.20" height="3.20" stroke="#ff00ff" stroke-width="0.65" fill="none"/>
<rect x="203.47" y="201.08" width="3.20" height="3.20" stroke="#ff00ff" stroke-width="0.65" fill="none"/>
<rect x="205.43" y="203.65" width="3.20" height="3.20" stroke="#ff00ff" stroke-width="0.65" fill="none"/>
<rect x="207.38" y="205.80" width="3.20" height="3.20" stroke="#ff00ff" stroke-width="0.65" fill="none"/>
<rect x="209.33" y="207.40" width="3.20" height="3.20" stroke="#ff00ff" stroke-width="0.65" fill="none"/>
<rect x="211.29" y="208.79" width="3.20" height="3.20" stroke="#ff00ff" stroke-width="0.65" fill="none"/>
<rect x="213.24" y="209.90" width="3.20" height="3.20" stroke="#ff00ff" stroke-width="0.65" fill="none"/>
<rect x="215.19" y="210.87" width="3.20" height="3.20" stroke="#ff00ff" stroke-width="0.65" fill="none"/>
<rect x="217.15" y="211.85" width="3.20" height="3.20" stroke="#ff00ff" stroke-width="0.65" fill="none"/>
<rect x="219.10" y="212.68" width="3.20" height="3.20" stroke="#ff00ff" stroke-width="0.65" fill="none"/>
<rect x="221.05" y="213.30" width="3.20" height="3.20" stroke="#ff00ff" stroke-width="0.65" fill="none"/>
<rect x="223.01" y="213.76" width="3.20" height="3.20" stroke="#ff00ff" stroke-width="0.65" fill="none"/>
<rect x="224.96" y="214.21" width="3.20" height="3.20" stroke="#ff00ff" stroke-width="0.65" fill="none"/>
<rect x="226.91" y="214.66" width="3.20" height="3.20" stroke="#ff00ff" stroke-width="0.65" fill="none"/>
<rect x="228.87" y="215.11" width="3.20" height="3.20" stroke="#ff00ff" stroke-width="0.65" fill="none"/>
<rect x="230.82" y="215.49" width="3.20" height="3.20" stroke="#ff00ff" stroke-width="0.65" fill="none"/>
<rect x="232.77" y="215.87" width="3.20" height="3.20" stroke="#ff00ff" stroke-width="0.65" fill="none"/>
<rect x="234.73" y="216.26" width="3.20" height="3.20" stroke="#ff00ff" stroke-width="0.65" fill="none"/>
<rect x="236.68" y="216.53" width="3.20" height="3.20" stroke="#ff00ff" stroke-width="0.65" fill="none"/>
<rect x="238.64" y="216.79" width="3.20" height="3.20" stroke="#ff00ff" stroke-width="0.65" fill="none"/>
<rect x="240.59" y="217.04" width="3.20" height="3.20" stroke="#ff00ff" stroke-width="0.65" fill="none"/>
<rect x="248.70" y="218.37" width="3.20" height="3.20" stroke="#ff00ff" stroke-width="0.65" fill="none"/>
<rect x="256.30" y="218.89" width="3.20" height="3.20" stroke="#ff00ff" stroke-width="0.65" fill="none"/>
<rect x="263.90" y="219.24" width="3.20" height="3.20" stroke="#ff00ff" stroke-width="0.65" fill="none"/>
<rect x="271.50" y="219.55" width="3.20" height="3.20" stroke="#ff00ff" stroke-width="0.65" fill="none"/>
<rect x="279.10" y="219.78" width="3.20" height="3.20" stroke="#ff00ff" stroke-width="0.65" fill="none"/>
<rect x="286.70" y="219.96" width="3.20" height="3.20" stroke="#ff00ff" stroke-width="0.65" fill="none"/>
<rect x="294.30" y="220.11" width="3.20" height="3.20" stroke="#ff00ff" stroke-width="0.65" fill="none"/>
<rect x="301.90" y="220.21" width="3.20" height="3.20" stroke="#ff00ff" stroke-width="0.65" fill="none"/>
<rect x="309.50" y="220.30" width="3.20" height="3.20" stroke="#ff00ff" stroke-width="0.65" fill="none"/>
<rect x="317.10" y="220.38" width="3.20" height="3.20" stroke="#ff00ff" stroke-width="0.65" fill="none"/>
<rect x="324.70" y="220.43" width="3.20" height="3.20" stroke="#ff00ff" stroke-width="0.65" fill="none"/>
<rect x="332.30" y="220.48" width="3.20" height="3.20" stroke="#ff00ff" stroke-width="0.65" fill="none"/>
<rect x="339.90" y="220.52" width="3.20" height="3.20" stroke="#ff00ff" stroke-width="0.65" fill="none"/>
<rect x="347.50" y="220.54" width="3.20" height="3.20" stroke="#ff00ff" stroke-width="0.65" fill="none"/>
<rect x="355.10" y="220.56" width="3.20" height="3.20" stroke="#ff00ff" stroke-width="0.65" fill="none"/>
<g clip-path="url(#cm)">
</g>
<path d="M44.60 223.5v-3.4M44.60 5.95v3.4M89.27 223.5v-3.4M89.27 5.95v3.4M133.94 223.5v-3.4M133.94 5.95v3.4M178.61 223.5v-3.4M178.61 5.95v3.4M223.29 223.5v-3.4M223.29 5.95v3.4M267.96 223.5v-3.4M267.96 5.95v3.4M312.63 223.5v-3.4M312.63 5.95v3.4M357.30 223.5v-3.4M357.30 5.95v3.4M44.6 223.50h3.4M357.3 223.50h-3.4M44.6 196.31h3.4M357.3 196.31h-3.4M44.6 169.11h3.4M357.3 169.11h-3.4M44.6 141.92h3.4M357.3 141.92h-3.4M44.6 114.72h3.4M357.3 114.72h-3.4M44.6 87.53h3.4M357.3 87.53h-3.4M44.6 60.34h3.4M357.3 60.34h-3.4M44.6 33.14h3.4M357.3 33.14h-3.4M44.6 5.95h3.4M357.3 5.95h-3.4" stroke="#000" stroke-width="0.7" fill="none"/>
<path d="M44.6 5.95H357.3V223.5" stroke="#222" stroke-width="1.05" fill="none"/>
<path d="M44.6 5.45V223.5H357.8" stroke="#000" stroke-width="1.15" fill="none"/>
<g font-family="Liberation Serif, serif" font-size="12" fill="#444">
<text x="46.80" y="236.9" text-anchor="middle">0</text>
<text x="91.47" y="236.9" text-anchor="middle">0.005</text>
<text x="136.14" y="236.9" text-anchor="middle">0.01</text>
<text x="180.81" y="236.9" text-anchor="middle">0.015</text>
<text x="225.49" y="236.9" text-anchor="middle">0.02</text>
<text x="270.16" y="236.9" text-anchor="middle">0.025</text>
<text x="314.83" y="236.9" text-anchor="middle">0.03</text>
<text x="359.50" y="236.9" text-anchor="middle">0.035</text>
<text x="38" y="227.10" text-anchor="end">0</text>
<text x="38" y="199.91" text-anchor="end">10</text>
<text x="38" y="172.71" text-anchor="end">20</text>
<text x="38" y="145.52" text-anchor="end">30</text>
<text x="38" y="118.32" text-anchor="end">40</text>
<text x="38" y="91.13" text-anchor="end">50</text>
<text x="38" y="63.94" text-anchor="end">60</text>
<text x="38" y="36.74" text-anchor="end">70</text>
<text x="38" y="9.55" text-anchor="end">80</text>
</g>
<rect x="195.5" y="32.0" width="124.39999999999998" height="86.1" fill="#fff"/>
<g clip-path="url(#ci)">
<path d="M61.64 -178.07L74.90 -119.19L88.16 -78.30L101.42 -50.80L114.69 -28.92L127.95 -12.08L141.21 2.18L154.47 14.70L167.74 23.92L181.00 30.83L195.50 39.50L198.25 40.72L201.00 41.94L203.75 43.17L206.50 44.43L209.25 45.72L212.00 47.00L214.75 48.12L217.50 49.23L220.25 50.35L223.00 51.47L225.75 52.59L228.50 53.68L231.25 54.66L234.00 55.63L236.75 56.61L239.50 57.59L242.25 58.57L245.00 59.54L247.75 60.54L250.50 61.55L253.25 62.56L256.00 63.57L258.75 64.59L261.50 65.61L264.25 66.47L267.00 67.74L269.75 69.17L272.50 71.40L275.25 74.05L278.00 80.10L281.40 87.80L284.80 94.70L288.20 99.90L291.60 103.60L295.00 106.70L298.40 109.00L301.80 111.00L305.20 112.60L308.60 114.00L312.00 115.40L315.40 116.60L318.80 117.50L322.20 118.15L325.60 118.80L329.00 119.45L332.40 120.10L335.80 120.65L339.20 121.20L342.60 121.75L346.00 122.15L349.40 122.52L352.80 122.88L366.92 124.79L380.15 125.55L393.37 126.05L406.60 126.50L419.83 126.83L433.06 127.09L446.28 127.30L459.51 127.44L472.74 127.58L485.97 127.68L499.19 127.76L512.42 127.83L525.65 127.89L538.88 127.92L552.11 127.95" stroke="#ff0000" stroke-width="0.62" fill="none"/>
</g>
<path d="M193.94 39.50H197.06M195.50 37.94V41.06" stroke="#ff0000" stroke-width="0.6" fill="none"/>
<path d="M196.69 40.72H199.81M198.25 39.16V42.29" stroke="#ff0000" stroke-width="0.6" fill="none"/>
<path d="M199.44 41.94H202.56M201.00 40.38V43.51" stroke="#ff0000" stroke-width="0.6" fill="none"/>
<path d="M202.19 43.17H205.31M203.75 41.60V44.73" stroke="#ff0000" stroke-width="0.6" fill="none"/>
<path d="M204.94 44.43H208.06M206.50 42.87V46.00" stroke="#ff0000" stroke-width="0.6" fill="none"/>
<path d="M207.69 45.72H210.81M209.25 44.15V47.28" stroke="#ff0000" stroke-width="0.6" fill="none"/>
<path d="M210.44 47.00H213.56M212.00 45.44V48.56" stroke="#ff0000" stroke-width="0.6" fill="none"/>
<path d="M213.19 48.12H216.31M214.75 46.55V49.68" stroke="#ff0000" stroke-width="0.6" fill="none"/>
<path d="M215.94 49.23H219.06M217.50 47.67V50.80" stroke="#ff0000" stroke-width="0.6" fill="none"/>
<path d="M218.69 50.35H221.81M220.25 48.79V51.92" stroke="#ff0000" stroke-width="0.6" fill="none"/>
<path d="M221.44 51.47H224.56M223.00 49.90V53.03" stroke="#ff0000" stroke-width="0.6" fill="none"/>
<path d="M224.19 52.59H227.31M225.75 51.02V54.15" stroke="#ff0000" stroke-width="0.6" fill="none"/>
<path d="M226.94 53.68H230.06M228.50 52.11V55.24" stroke="#ff0000" stroke-width="0.6" fill="none"/>
<path d="M229.69 54.66H232.81M231.25 53.09V56.22" stroke="#ff0000" stroke-width="0.6" fill="none"/>
<path d="M232.44 55.63H235.56M234.00 54.07V57.20" stroke="#ff0000" stroke-width="0.6" fill="none"/>
<path d="M235.19 56.61H238.31M236.75 55.05V58.18" stroke="#ff0000" stroke-width="0.6" fill="none"/>
<path d="M237.94 57.59H241.06M239.50 56.02V59.15" stroke="#ff0000" stroke-width="0.6" fill="none"/>
<path d="M240.69 58.57H243.81M242.25 57.00V60.13" stroke="#ff0000" stroke-width="0.6" fill="none"/>
<path d="M243.44 59.54H246.56M245.00 57.98V61.11" stroke="#ff0000" stroke-width="0.6" fill="none"/>
<path d="M246.19 60.54H249.31M247.75 58.98V62.11" stroke="#ff0000" stroke-width="0.6" fill="none"/>
<path d="M248.94 61.55H252.06M250.50 59.99V63.11" stroke="#ff0000" stroke-width="0.6" fill="none"/>
<path d="M251.69 62.56H254.81M253.25 60.99V64.12" stroke="#ff0000" stroke-width="0.6" fill="none"/>
<path d="M254.44 63.57H257.56M256.00 62.01V65.14" stroke="#ff0000" stroke-width="0.6" fill="none"/>
<path d="M257.19 64.59H260.31M258.75 63.03V66.16" stroke="#ff0000" stroke-width="0.6" fill="none"/>
<path d="M259.94 65.61H263.06M261.50 64.05V67.18" stroke="#ff0000" stroke-width="0.6" fill="none"/>
<path d="M262.69 66.47H265.81M264.25 64.91V68.04" stroke="#ff0000" stroke-width="0.6" fill="none"/>
<path d="M265.44 67.74H268.56M267.00 66.18V69.30" stroke="#ff0000" stroke-width="0.6" fill="none"/>
<path d="M268.19 69.17H271.31M269.75 67.61V70.73" stroke="#ff0000" stroke-width="0.6" fill="none"/>
<path d="M270.94 71.40H274.06M272.50 69.84V72.96" stroke="#ff0000" stroke-width="0.6" fill="none"/>
<path d="M273.69 74.05H276.81M275.25 72.49V75.61" stroke="#ff0000" stroke-width="0.6" fill="none"/>
<path d="M276.44 80.10H279.56M278.00 78.54V81.66" stroke="#ff0000" stroke-width="0.6" fill="none"/>
<path d="M279.84 87.80H282.96M281.40 86.24V89.36" stroke="#ff0000" stroke-width="0.6" fill="none"/>
<path d="M283.24 94.70H286.36M284.80 93.14V96.26" stroke="#ff0000" stroke-width="0.6" fill="none"/>
<path d="M286.64 99.90H289.76M288.20 98.34V101.46" stroke="#ff0000" stroke-width="0.6" fill="none"/>
<path d="M290.04 103.60H293.16M291.60 102.04V105.16" stroke="#ff0000" stroke-width="0.6" fill="none"/>
<path d="M293.44 106.70H296.56M295.00 105.14V108.26" stroke="#ff0000" stroke-width="0.6" fill="none"/>
<path d="M296.84 109.00H299.96M298.40 107.44V110.56" stroke="#ff0000" stroke-width="0.6" fill="none"/>
<path d="M300.24 111.00H303.36M301.80 109.44V112.56" stroke="#ff0000" stroke-width="0.6" fill="none"/>
<path d="M303.64 112.60H306.76M305.20 111.04V114.16" stroke="#ff0000" stroke-width="0.6" fill="none"/>
<path d="M307.04 114.00H310.16M308.60 112.44V115.56" stroke="#ff0000" stroke-width="0.6" fill="none"/>
<path d="M310.44 115.40H313.56M312.00 113.84V116.96" stroke="#ff0000" stroke-width="0.6" fill="none"/>
<path d="M313.84 116.60H316.96M315.40 115.04V118.16" stroke="#ff0000" stroke-width="0.6" fill="none"/>
<path d="M317.24 117.50H320.36M318.80 115.94V119.06" stroke="#ff0000" stroke-width="0.6" fill="none"/>
<g clip-path="url(#ci)">
<path d="M61.64 -195.63L74.90 -133.01L88.16 -89.82L101.42 -60.16L114.69 -36.55L127.95 -19.13L141.21 -4.01L154.47 7.50L167.74 17.58L181.00 26.22L195.50 34.30L198.25 35.76L201.00 37.21L203.75 38.67L206.50 39.90L209.25 41.11L212.00 42.32L214.75 43.53L217.50 44.72L220.25 45.92L223.00 47.12L225.75 48.32L228.50 49.50L231.25 50.60L234.00 51.71L236.75 52.83L239.50 53.95L242.25 55.07L245.00 56.19L247.75 57.26L250.50 58.22L253.25 59.19L256.00 60.09L258.75 60.87L261.50 61.66L264.25 62.53L267.00 63.70L269.75 65.35L272.50 67.45L275.25 70.08L278.00 77.50L281.40 87.30L284.80 94.70L288.20 99.90L291.60 103.60L295.00 106.70L298.40 109.00L301.80 111.00L305.20 112.60L308.60 114.00L312.00 115.40L315.40 116.60L318.80 117.50L322.20 118.15L325.60 118.80L329.00 119.45L332.40 120.10L335.80 120.65L339.20 121.20L342.60 121.75L346.00 122.15L349.40 122.52L352.80 122.88L366.92 124.79L380.15 125.55L393.37 126.05L406.60 126.50L419.83 126.83L433.06 127.09L446.28 127.30L459.51 127.44L472.74 127.58L485.97 127.68L499.19 127.76L512.42 127.83L525.65 127.89L538.88 127.92L552.11 127.95" stroke="#00ff00" stroke-width="0.62" fill="none" stroke-dasharray="2.2,1.2"/>
</g>
<path d="M194.03 32.83L196.97 35.77M194.03 35.77L196.97 32.83" stroke="#00ff00" stroke-width="0.85" fill="none"/>
<path d="M196.78 34.28L199.72 37.23M196.78 37.23L199.72 34.28" stroke="#00ff00" stroke-width="0.85" fill="none"/>
<path d="M199.53 35.74L202.47 38.68M199.53 38.68L202.47 35.74" stroke="#00ff00" stroke-width="0.85" fill="none"/>
<path d="M202.28 37.20L205.22 40.14M202.28 40.14L205.22 37.20" stroke="#00ff00" stroke-width="0.85" fill="none"/>
<path d="M205.03 38.43L207.97 41.37M205.03 41.37L207.97 38.43" stroke="#00ff00" stroke-width="0.85" fill="none"/>
<path d="M207.78 39.64L210.72 42.58M207.78 42.58L210.72 39.64" stroke="#00ff00" stroke-width="0.85" fill="none"/>
<path d="M210.53 40.85L213.47 43.79M210.53 43.79L213.47 40.85" stroke="#00ff00" stroke-width="0.85" fill="none"/>
<path d="M213.28 42.05L216.22 45.00M213.28 45.00L216.22 42.05" stroke="#00ff00" stroke-width="0.85" fill="none"/>
<path d="M216.03 43.25L218.97 46.20M216.03 46.20L218.97 43.25" stroke="#00ff00" stroke-width="0.85" fill="none"/>
<path d="M218.78 44.45L221.72 47.40M218.78 47.40L221.72 44.45" stroke="#00ff00" stroke-width="0.85" fill="none"/>
<path d="M221.53 45.65L224.47 48.59M221.53 48.59L224.47 45.65" stroke="#00ff00" stroke-width="0.85" fill="none"/>
<path d="M224.28 46.85L227.22 49.79M224.28 49.79L227.22 46.85" stroke="#00ff00" stroke-width="0.85" fill="none"/>
<path d="M227.03 48.03L229.97 50.97M227.03 50.97L229.97 48.03" stroke="#00ff00" stroke-width="0.85" fill="none"/>
<path d="M229.78 49.13L232.72 52.07M229.78 52.07L232.72 49.13" stroke="#00ff00" stroke-width="0.85" fill="none"/>
<path d="M232.53 50.24L235.47 53.19M232.53 53.19L235.47 50.24" stroke="#00ff00" stroke-width="0.85" fill="none"/>
<path d="M235.28 51.36L238.22 54.30M235.28 54.30L238.22 51.36" stroke="#00ff00" stroke-width="0.85" fill="none"/>
<path d="M238.03 52.48L240.97 55.42M238.03 55.42L240.97 52.48" stroke="#00ff00" stroke-width="0.85" fill="none"/>
<path d="M240.78 53.60L243.72 56.54M240.78 56.54L243.72 53.60" stroke="#00ff00" stroke-width="0.85" fill="none"/>
<path d="M243.53 54.71L246.47 57.66M243.53 57.66L246.47 54.71" stroke="#00ff00" stroke-width="0.85" fill="none"/>
<path d="M246.28 55.79L249.22 58.73M246.28 58.73L249.22 55.79" stroke="#00ff00" stroke-width="0.85" fill="none"/>
<path d="M249.03 56.75L251.97 59.70M249.03 59.70L251.97 56.75" stroke="#00ff00" stroke-width="0.85" fill="none"/>
<path d="M251.78 57.72L254.72 60.66M251.78 60.66L254.72 57.72" stroke="#00ff00" stroke-width="0.85" fill="none"/>
<path d="M254.53 58.61L257.47 61.56M254.53 61.56L257.47 58.61" stroke="#00ff00" stroke-width="0.85" fill="none"/>
<path d="M257.28 59.40L260.22 62.34M257.28 62.34L260.22 59.40" stroke="#00ff00" stroke-width="0.85" fill="none"/>
<path d="M260.03 60.19L262.97 63.13M260.03 63.13L262.97 60.19" stroke="#00ff00" stroke-width="0.85" fill="none"/>
<path d="M262.78 61.06L265.72 64.00M262.78 64.00L265.72 61.06" stroke="#00ff00" stroke-width="0.85" fill="none"/>
<path d="M265.53 62.23L268.47 65.17M265.53 65.17L268.47 62.23" stroke="#00ff00" stroke-width="0.85" fill="none"/>
<path d="M268.28 63.88L271.22 66.82M268.28 66.82L271.22 63.88" stroke="#00ff00" stroke-width="0.85" fill="none"/>
<path d="M271.03 65.98L273.97 68.92M271.03 68.92L273.97 65.98" stroke="#00ff00" stroke-width="0.85" fill="none"/>
<path d="M273.78 68.60L276.72 71.55M273.78 71.55L276.72 68.60" stroke="#00ff00" stroke-width="0.85" fill="none"/>
<path d="M276.53 76.03L279.47 78.97M276.53 78.97L279.47 76.03" stroke="#00ff00" stroke-width="0.85" fill="none"/>
<path d="M279.93 85.83L282.87 88.77M279.93 88.77L282.87 85.83" stroke="#00ff00" stroke-width="0.85" fill="none"/>
<path d="M283.33 93.23L286.27 96.17M283.33 96.17L286.27 93.23" stroke="#00ff00" stroke-width="0.85" fill="none"/>
<path d="M286.73 98.43L289.67 101.37M286.73 101.37L289.67 98.43" stroke="#00ff00" stroke-width="0.85" fill="none"/>
<path d="M290.13 102.13L293.07 105.07M290.13 105.07L293.07 102.13" stroke="#00ff00" stroke-width="0.85" fill="none"/>
<path d="M293.53 105.23L296.47 108.17M293.53 108.17L296.47 105.23" stroke="#00ff00" stroke-width="0.85" fill="none"/>
<path d="M296.93 107.53L299.87 110.47M296.93 110.47L299.87 107.53" stroke="#00ff00" stroke-width="0.85" fill="none"/>
<path d="M300.33 109.53L303.27 112.47M300.33 112.47L303.27 109.53" stroke="#00ff00" stroke-width="0.85" fill="none"/>
<path d="M303.73 111.13L306.67 114.07M303.73 114.07L306.67 111.13" stroke="#00ff00" stroke-width="0.85" fill="none"/>
<path d="M307.13 112.53L310.07 115.47M307.13 115.47L310.07 112.53" stroke="#00ff00" stroke-width="0.85" fill="none"/>
<path d="M310.53 113.93L313.47 116.87M310.53 116.87L313.47 113.93" stroke="#00ff00" stroke-width="0.85" fill="none"/>
<path d="M313.93 115.13L316.87 118.07M313.93 118.07L316.87 115.13" stroke="#00ff00" stroke-width="0.85" fill="none"/>
<path d="M317.33 116.03L320.27 118.97M317.33 118.97L320.27 116.03" stroke="#00ff00" stroke-width="0.85" fill="none"/>
<g clip-path="url(#ci)">
<path d="M61.64 -205.86L74.90 -142.37L88.16 -98.60L101.42 -67.07L114.69 -42.31L127.95 -24.89L141.21 -8.62L154.47 3.18L167.74 13.55L181.00 22.76L195.50 31.40L198.25 32.83L201.00 34.34L203.75 35.86L206.50 37.16L209.25 38.43L212.00 39.70L214.75 40.82L217.50 41.95L220.25 43.07L223.00 44.19L225.75 45.34L228.50 46.51L231.25 47.68L234.00 48.79L236.75 49.87L239.50 50.95L242.25 52.03L245.00 53.11L247.75 54.18L250.50 55.20L253.25 56.23L256.00 57.25L258.75 58.27L261.50 59.27L264.25 60.27L267.00 61.38L269.75 62.94L272.50 64.95L275.25 67.65L278.00 74.80L281.40 86.80L284.80 94.70L288.20 99.90L291.60 103.60L295.00 106.70L298.40 109.00L301.80 111.00L305.20 112.60L308.60 114.00L312.00 115.40L315.40 116.60L318.80 117.50L322.20 118.15L325.60 118.80L329.00 119.45L332.40 120.10L335.80 120.65L339.20 121.20L342.60 121.75L346.00 122.15L349.40 122.52L352.80 122.88L366.92 124.79L380.15 125.55L393.37 126.05L406.60 126.50L419.83 126.83L433.06 127.09L446.28 127.30L459.51 127.44L472.74 127.58L485.97 127.68L499.19 127.76L512.42 127.83L525.65 127.89L538.88 127.92L552.11 127.95" stroke="#0000ff" stroke-width="0.62" fill="none" stroke-dasharray="1.5,1.2"/>
</g>
<path d="M196.50 32.83H200.00M198.25 31.08V34.58M196.92 31.49L199.58 34.16M196.92 34.16L199.58 31.49" stroke="#0000ff" stroke-width="0.8999999999999999" fill="none"/><circle cx="198.25" cy="32.83" r="0.87" fill="#0000ff"/>
<path d="M199.25 34.34H202.75M201.00 32.60V36.09M199.67 33.01L202.33 35.68M199.67 35.68L202.33 33.01" stroke="#0000ff" stroke-width="0.8999999999999999" fill="none"/><circle cx="201.00" cy="34.34" r="0.87" fill="#0000ff"/>
<path d="M202.00 35.86H205.50M203.75 34.11V37.61M202.42 34.53L205.08 37.20M202.42 37.20L205.08 34.53" stroke="#0000ff" stroke-width="0.8999999999999999" fill="none"/><circle cx="203.75" cy="35.86" r="0.87" fill="#0000ff"/>
<path d="M204.75 37.16H208.25M206.50 35.41V38.90M205.17 35.82L207.83 38.49M205.17 38.49L207.83 35.82" stroke="#0000ff" stroke-width="0.8999999999999999" fill="none"/><circle cx="206.50" cy="37.16" r="0.87" fill="#0000ff"/>
<path d="M207.50 38.43H211.00M209.25 36.68V40.18M207.92 37.09L210.58 39.76M207.92 39.76L210.58 37.09" stroke="#0000ff" stroke-width="0.8999999999999999" fill="none"/><circle cx="209.25" cy="38.43" r="0.87" fill="#0000ff"/>
<path d="M210.25 39.70H213.75M212.00 37.95V41.45M210.67 38.37L213.33 41.03M210.67 41.03L213.33 38.37" stroke="#0000ff" stroke-width="0.8999999999999999" fill="none"/><circle cx="212.00" cy="39.70" r="0.87" fill="#0000ff"/>
<path d="M213.00 40.82H216.50M214.75 39.07V42.57M213.42 39.49L216.08 42.16M213.42 42.16L216.08 39.49" stroke="#0000ff" stroke-width="0.8999999999999999" fill="none"/><circle cx="214.75" cy="40.82" r="0.87" fill="#0000ff"/>
<path d="M215.75 41.95H219.25M217.50 40.20V43.69M216.17 40.61L218.83 43.28M216.17 43.28L218.83 40.61" stroke="#0000ff" stroke-width="0.8999999999999999" fill="none"/><circle cx="217.50" cy="41.95" r="0.87" fill="#0000ff"/>
<path d="M218.50 43.07H222.00M220.25 41.32V44.82M218.92 41.73L221.58 44.40M218.92 44.40L221.58 41.73" stroke="#0000ff" stroke-width="0.8999999999999999" fill="none"/><circle cx="220.25" cy="43.07" r="0.87" fill="#0000ff"/>
<path d="M221.25 44.19H224.75M223.00 42.44V45.94M221.67 42.86L224.33 45.53M221.67 45.53L224.33 42.86" stroke="#0000ff" stroke-width="0.8999999999999999" fill="none"/><circle cx="223.00" cy="44.19" r="0.87" fill="#0000ff"/>
<path d="M224.00 45.34H227.50M225.75 43.60V47.09M224.42 44.01L227.08 46.68M224.42 46.68L227.08 44.01" stroke="#0000ff" stroke-width="0.8999999999999999" fill="none"/><circle cx="225.75" cy="45.34" r="0.87" fill="#0000ff"/>
<path d="M226.75 46.51H230.25M228.50 44.76V48.26M227.17 45.18L229.83 47.85M227.17 47.85L229.83 45.18" stroke="#0000ff" stroke-width="0.8999999999999999" fill="none"/><circle cx="228.50" cy="46.51" r="0.87" fill="#0000ff"/>
<path d="M229.50 47.68H233.00M231.25 45.93V49.43M229.92 46.35L232.58 49.02M229.92 49.02L232.58 46.35" stroke="#0000ff" stroke-width="0.8999999999999999" fill="none"/><circle cx="231.25" cy="47.68" r="0.87" fill="#0000ff"/>
<path d="M232.25 48.79H235.75M234.00 47.04V50.53M232.67 47.45L235.33 50.12M232.67 50.12L235.33 47.45" stroke="#0000ff" stroke-width="0.8999999999999999" fill="none"/><circle cx="234.00" cy="48.79" r="0.87" fill="#0000ff"/>
<path d="M235.00 49.87H238.50M236.75 48.12V51.62M235.42 48.53L238.08 51.20M235.42 51.20L238.08 48.53" stroke="#0000ff" stroke-width="0.8999999999999999" fill="none"/><circle cx="236.75" cy="49.87" r="0.87" fill="#0000ff"/>
<path d="M237.75 50.95H241.25M239.50 49.20V52.70M238.17 49.62L240.83 52.28M238.17 52.28L240.83 49.62" stroke="#0000ff" stroke-width="0.8999999999999999" fill="none"/><circle cx="239.50" cy="50.95" r="0.87" fill="#0000ff"/>
<path d="M240.50 52.03H244.00M242.25 50.28V53.78M240.92 50.70L243.58 53.37M240.92 53.37L243.58 50.70" stroke="#0000ff" stroke-width="0.8999999999999999" fill="none"/><circle cx="242.25" cy="52.03" r="0.87" fill="#0000ff"/>
<path d="M243.25 53.11H246.75M245.00 51.37V54.86M243.67 51.78L246.33 54.45M243.67 54.45L246.33 51.78" stroke="#0000ff" stroke-width="0.8999999999999999" fill="none"/><circle cx="245.00" cy="53.11" r="0.87" fill="#0000ff"/>
<path d="M246.00 54.18H249.50M247.75 52.43V55.93M246.42 52.85L249.08 55.51M246.42 55.51L249.08 52.85" stroke="#0000ff" stroke-width="0.8999999999999999" fill="none"/><circle cx="247.75" cy="54.18" r="0.87" fill="#0000ff"/>
<path d="M248.75 55.20H252.25M250.50 53.46V56.95M249.17 53.87L251.83 56.54M249.17 56.54L251.83 53.87" stroke="#0000ff" stroke-width="0.8999999999999999" fill="none"/><circle cx="250.50" cy="55.20" r="0.87" fill="#0000ff"/>
<path d="M251.50 56.23H255.00M253.25 54.48V57.98M251.92 54.90L254.58 57.56M251.92 57.56L254.58 54.90" stroke="#0000ff" stroke-width="0.8999999999999999" fill="none"/><circle cx="253.25" cy="56.23" r="0.87" fill="#0000ff"/>
<path d="M254.25 57.25H257.75M256.00 55.51V59.00M254.67 55.92L257.33 58.59M254.67 58.59L257.33 55.92" stroke="#0000ff" stroke-width="0.8999999999999999" fill="none"/><circle cx="256.00" cy="57.25" r="0.87" fill="#0000ff"/>
<path d="M257.00 58.27H260.50M258.75 56.52V60.02M257.42 56.94L260.08 59.61M257.42 59.61L260.08 56.94" stroke="#0000ff" stroke-width="0.8999999999999999" fill="none"/><circle cx="258.75" cy="58.27" r="0.87" fill="#0000ff"/>
<path d="M259.75 59.27H263.25M261.50 57.52V61.02M260.17 57.93L262.83 60.60M260.17 60.60L262.83 57.93" stroke="#0000ff" stroke-width="0.8999999999999999" fill="none"/><circle cx="261.50" cy="59.27" r="0.87" fill="#0000ff"/>
<path d="M262.50 60.27H266.00M264.25 58.52V62.01M262.92 58.93L265.58 61.60M262.92 61.60L265.58 58.93" stroke="#0000ff" stroke-width="0.8999999999999999" fill="none"/><circle cx="264.25" cy="60.27" r="0.87" fill="#0000ff"/>
<path d="M265.25 61.38H268.75M267.00 59.63V63.12M265.67 60.04L268.33 62.71M265.67 62.71L268.33 60.04" stroke="#0000ff" stroke-width="0.8999999999999999" fill="none"/><circle cx="267.00" cy="61.38" r="0.87" fill="#0000ff"/>
<path d="M268.00 62.94H271.50M269.75 61.20V64.69M268.42 61.61L271.08 64.28M268.42 64.28L271.08 61.61" stroke="#0000ff" stroke-width="0.8999999999999999" fill="none"/><circle cx="269.75" cy="62.94" r="0.87" fill="#0000ff"/>
<path d="M270.75 64.95H274.25M272.50 63.20V66.70M271.17 63.61L273.83 66.28M271.17 66.28L273.83 63.61" stroke="#0000ff" stroke-width="0.8999999999999999" fill="none"/><circle cx="272.50" cy="64.95" r="0.87" fill="#0000ff"/>
<path d="M273.50 67.65H277.00M275.25 65.90V69.40M273.92 66.32L276.58 68.98M273.92 68.98L276.58 66.32" stroke="#0000ff" stroke-width="0.8999999999999999" fill="none"/><circle cx="275.25" cy="67.65" r="0.87" fill="#0000ff"/>
<path d="M276.25 74.80H279.75M278.00 73.05V76.55M276.67 73.47L279.33 76.13M276.67 76.13L279.33 73.47" stroke="#0000ff" stroke-width="0.8999999999999999" fill="none"/><circle cx="278.00" cy="74.80" r="0.87" fill="#0000ff"/>
<path d="M279.65 86.80H283.15M281.40 85.05V88.55M280.07 85.47L282.73 88.13M280.07 88.13L282.73 85.47" stroke="#0000ff" stroke-width="0.8999999999999999" fill="none"/><circle cx="281.40" cy="86.80" r="0.87" fill="#0000ff"/>
<path d="M283.05 94.70H286.55M284.80 92.95V96.45M283.47 93.37L286.13 96.03M283.47 96.03L286.13 93.37" stroke="#0000ff" stroke-width="0.8999999999999999" fill="none"/><circle cx="284.80" cy="94.70" r="0.87" fill="#0000ff"/>
<path d="M286.45 99.90H289.95M288.20 98.15V101.65M286.87 98.57L289.53 101.23M286.87 101.23L289.53 98.57" stroke="#0000ff" stroke-width="0.8999999999999999" fill="none"/><circle cx="288.20" cy="99.90" r="0.87" fill="#0000ff"/>
<path d="M289.85 103.60H293.35M291.60 101.85V105.35M290.27 102.27L292.93 104.93M290.27 104.93L292.93 102.27" stroke="#0000ff" stroke-width="0.8999999999999999" fill="none"/><circle cx="291.60" cy="103.60" r="0.87" fill="#0000ff"/>
<path d="M293.25 106.70H296.75M295.00 104.95V108.45M293.67 105.37L296.33 108.03M293.67 108.03L296.33 105.37" stroke="#0000ff" stroke-width="0.8999999999999999" fill="none"/><circle cx="295.00" cy="106.70" r="0.87" fill="#0000ff"/>
<path d="M296.65 109.00H300.15M298.40 107.25V110.75M297.07 107.67L299.73 110.33M297.07 110.33L299.73 107.67" stroke="#0000ff" stroke-width="0.8999999999999999" fill="none"/><circle cx="298.40" cy="109.00" r="0.87" fill="#0000ff"/>
<path d="M300.05 111.00H303.55M301.80 109.25V112.75M300.47 109.67L303.13 112.33M300.47 112.33L303.13 109.67" stroke="#0000ff" stroke-width="0.8999999999999999" fill="none"/><circle cx="301.80" cy="111.00" r="0.87" fill="#0000ff"/>
<path d="M303.45 112.60H306.95M305.20 110.85V114.35M303.87 111.27L306.53 113.93M303.87 113.93L306.53 111.27" stroke="#0000ff" stroke-width="0.8999999999999999" fill="none"/><circle cx="305.20" cy="112.60" r="0.87" fill="#0000ff"/>
<path d="M306.85 114.00H310.35M308.60 112.25V115.75M307.27 112.67L309.93 115.33M307.27 115.33L309.93 112.67" stroke="#0000ff" stroke-width="0.8999999999999999" fill="none"/><circle cx="308.60" cy="114.00" r="0.87" fill="#0000ff"/>
<path d="M310.25 115.40H313.75M312.00 113.65V117.15M310.67 114.07L313.33 116.73M310.67 116.73L313.33 114.07" stroke="#0000ff" stroke-width="0.8999999999999999" fill="none"/><circle cx="312.00" cy="115.40" r="0.87" fill="#0000ff"/>
<path d="M313.65 116.60H317.15M315.40 114.85V118.35M314.07 115.27L316.73 117.93M314.07 117.93L316.73 115.27" stroke="#0000ff" stroke-width="0.8999999999999999" fill="none"/><circle cx="315.40" cy="116.60" r="0.87" fill="#0000ff"/>
<path d="M317.05 117.50H320.55M318.80 115.75V119.25M317.47 116.17L320.13 118.83M317.47 118.83L320.13 116.17" stroke="#0000ff" stroke-width="0.8999999999999999" fill="none"/><circle cx="318.80" cy="117.50" r="0.87" fill="#0000ff"/>
<g clip-path="url(#ci)">
<path d="M61.64 -218.38L74.90 -151.58L88.16 -106.23L101.42 -73.12L114.69 -48.07L127.95 -29.93L141.21 -13.23L154.47 -0.85L167.74 9.52L181.00 18.73L195.50 28.70L198.25 29.93L201.00 31.16L203.75 32.39L206.50 33.63L209.25 34.86L212.00 36.10L214.75 37.34L217.50 38.61L220.25 39.87L223.00 41.14L225.75 42.34L228.50 43.51L231.25 44.66L234.00 45.82L236.75 46.97L239.50 48.15L242.25 49.34L245.00 50.53L247.75 51.70L250.50 52.80L253.25 53.90L256.00 55.00L258.75 56.07L261.50 57.07L264.25 58.07L267.00 59.05L269.75 60.18L272.50 62.13L275.25 64.95L278.00 72.20L281.40 86.30L284.80 94.70L288.20 99.90L291.60 103.60L295.00 106.70L298.40 109.00L301.80 111.00L305.20 112.60L308.60 114.00L312.00 115.40L315.40 116.60L318.80 117.50L322.20 118.15L325.60 118.80L329.00 119.45L332.40 120.10L335.80 120.65L339.20 121.20L342.60 121.75L346.00 122.15L349.40 122.52L352.80 122.88L366.92 124.79L380.15 125.55L393.37 126.05L406.60 126.50L419.83 126.83L433.06 127.09L446.28 127.30L459.51 127.44L472.74 127.58L485.97 127.68L499.19 127.76L512.42 127.83L525.65 127.89L538.88 127.92L552.11 127.95" stroke="#ff00ff" stroke-width="0.62" fill="none" stroke-dasharray="0.6,1.1"/>
</g>
<rect x="202.28" y="30.92" width="2.94" height="2.94" stroke="#ff00ff" stroke-width="0.65" fill="none"/>
<rect x="205.03" y="32.15" width="2.94" height="2.94" stroke="#ff00ff" stroke-width="0.65" fill="none"/>
<rect x="207.78" y="33.39" width="2.94" height="2.94" stroke="#ff00ff" stroke-width="0.65" fill="none"/>
<rect x="210.53" y="34.63" width="2.94" height="2.94" stroke="#ff00ff" stroke-width="0.65" fill="none"/>
<rect x="213.28" y="35.87" width="2.94" height="2.94" stroke="#ff00ff" stroke-width="0.65" fill="none"/>
<rect x="216.03" y="37.14" width="2.94" height="2.94" stroke="#ff00ff" stroke-width="0.65" fill="none"/>
<rect x="218.78" y="38.40" width="2.94" height="2.94" stroke="#ff00ff" stroke-width="0.65" fill="none"/>
<rect x="221.53" y="39.67" width="2.94" height="2.94" stroke="#ff00ff" stroke-width="0.65" fill="none"/>
<rect x="224.28" y="40.87" width="2.94" height="2.94" stroke="#ff00ff" stroke-width="0.65" fill="none"/>
<rect x="227.03" y="42.04" width="2.94" height="2.94" stroke="#ff00ff" stroke-width="0.65" fill="none"/>
<rect x="229.78" y="43.19" width="2.94" height="2.94" stroke="#ff00ff" stroke-width="0.65" fill="none"/>
<rect x="232.53" y="44.35" width="2.94" height="2.94" stroke="#ff00ff" stroke-width="0.65" fill="none"/>
<rect x="235.28" y="45.50" width="2.94" height="2.94" stroke="#ff00ff" stroke-width="0.65" fill="none"/>
<rect x="238.03" y="46.68" width="2.94" height="2.94" stroke="#ff00ff" stroke-width="0.65" fill="none"/>
<rect x="240.78" y="47.87" width="2.94" height="2.94" stroke="#ff00ff" stroke-width="0.65" fill="none"/>
<rect x="243.53" y="49.06" width="2.94" height="2.94" stroke="#ff00ff" stroke-width="0.65" fill="none"/>
<rect x="246.28" y="50.23" width="2.94" height="2.94" stroke="#ff00ff" stroke-width="0.65" fill="none"/>
<rect x="249.03" y="51.33" width="2.94" height="2.94" stroke="#ff00ff" stroke-width="0.65" fill="none"/>
<rect x="251.78" y="52.43" width="2.94" height="2.94" stroke="#ff00ff" stroke-width="0.65" fill="none"/>
<rect x="254.53" y="53.53" width="2.94" height="2.94" stroke="#ff00ff" stroke-width="0.65" fill="none"/>
<rect x="257.28" y="54.60" width="2.94" height="2.94" stroke="#ff00ff" stroke-width="0.65" fill="none"/>
<rect x="260.03" y="55.60" width="2.94" height="2.94" stroke="#ff00ff" stroke-width="0.65" fill="none"/>
<rect x="262.78" y="56.59" width="2.94" height="2.94" stroke="#ff00ff" stroke-width="0.65" fill="none"/>
<rect x="265.53" y="57.57" width="2.94" height="2.94" stroke="#ff00ff" stroke-width="0.65" fill="none"/>
<rect x="268.28" y="58.70" width="2.94" height="2.94" stroke="#ff00ff" stroke-width="0.65" fill="none"/>
<rect x="271.03" y="60.66" width="2.94" height="2.94" stroke="#ff00ff" stroke-width="0.65" fill="none"/>
<rect x="273.78" y="63.48" width="2.94" height="2.94" stroke="#ff00ff" stroke-width="0.65" fill="none"/>
<rect x="276.53" y="70.73" width="2.94" height="2.94" stroke="#ff00ff" stroke-width="0.65" fill="none"/>
<rect x="279.93" y="84.83" width="2.94" height="2.94" stroke="#ff00ff" stroke-width="0.65" fill="none"/>
<rect x="283.33" y="93.23" width="2.94" height="2.94" stroke="#ff00ff" stroke-width="0.65" fill="none"/>
<rect x="286.73" y="98.43" width="2.94" height="2.94" stroke="#ff00ff" stroke-width="0.65" fill="none"/>
<rect x="290.13" y="102.13" width="2.94" height="2.94" stroke="#ff00ff" stroke-width="0.65" fill="none"/>
<rect x="293.53" y="105.23" width="2.94" height="2.94" stroke="#ff00ff" stroke-width="0.65" fill="none"/>
<rect x="296.93" y="107.53" width="2.94" height="2.94" stroke="#ff00ff" stroke-width="0.65" fill="none"/>
<rect x="300.33" y="109.53" width="2.94" height="2.94" stroke="#ff00ff" stroke-width="0.65" fill="none"/>
<rect x="303.73" y="111.13" width="2.94" height="2.94" stroke="#ff00ff" stroke-width="0.65" fill="none"/>
<rect x="307.13" y="112.53" width="2.94" height="2.94" stroke="#ff00ff" stroke-width="0.65" fill="none"/>
<rect x="310.53" y="113.93" width="2.94" height="2.94" stroke="#ff00ff" stroke-width="0.65" fill="none"/>
<rect x="313.93" y="115.13" width="2.94" height="2.94" stroke="#ff00ff" stroke-width="0.65" fill="none"/>
<rect x="317.33" y="116.03" width="2.94" height="2.94" stroke="#ff00ff" stroke-width="0.65" fill="none"/>
<g clip-path="url(#ci)">
</g>
<path d="M195.50 118.1v-3.4M195.50 32.0v3.4M257.70 118.1v-3.4M257.70 32.0v3.4M319.90 118.1v-3.4M319.90 32.0v3.4M195.5 110.30h3.4M319.9 110.30h-3.4M195.5 90.72h3.4M319.9 90.72h-3.4M195.5 71.15h3.4M319.9 71.15h-3.4M195.5 51.58h3.4M319.9 51.58h-3.4M195.5 32.00h3.4M319.9 32.00h-3.4" stroke="#000" stroke-width="0.7" fill="none"/>
<path d="M195.5 32.0H319.9V118.1" stroke="#222" stroke-width="1.05" fill="none"/>
<path d="M195.5 31.5V118.1H320.4" stroke="#000" stroke-width="1.15" fill="none"/>
<g font-family="Liberation Serif, serif" font-size="12" fill="#444">
<text x="197.50" y="132" text-anchor="middle">0.012</text>
<text x="259.70" y="132" text-anchor="middle">0.016</text>
<text x="321.90" y="132" text-anchor="middle">0.02</text>
<text x="188.8" y="114.00" text-anchor="end">5</text>
<text x="188.8" y="94.42" text-anchor="end">10</text>
<text x="188.8" y="74.85" text-anchor="end">15</text>
<text x="188.8" y="55.28" text-anchor="end">20</text>
<text x="188.8" y="35.70" text-anchor="end">25</text>
</g>
<g transform="translate(10.4 125.4) rotate(-90)" font-family="Liberation Serif, serif" fill="#444" font-style="italic"><text transform="scale(1.1 1)" x="0" y="0" font-size="12.6">W</text><text x="11.6" y="-5.0" font-size="8.4" font-style="normal">2</text><text transform="translate(10.4 3.1) scale(1.28 1)" x="0" y="0" font-size="8.4" font-style="normal">Δ</text><text x="17.3" y="3.1" font-size="8.4">θ</text></g>
<g transform="translate(162.2 87.2) rotate(-90)" font-family="Liberation Serif, serif" fill="#444" font-style="italic"><text transform="scale(1.1 1)" x="0" y="0" font-size="12.6">W</text><text x="11.6" y="-5.0" font-size="8.4" font-style="normal">2</text><text transform="translate(10.4 3.1) scale(1.28 1)" x="0" y="0" font-size="8.4" font-style="normal">Δ</text><text x="17.3" y="3.1" font-size="8.4">θ</text></g>
<text transform="translate(197.6 252.2) scale(1.2 1)" font-family="Liberation Serif, serif" font-size="11.5" font-style="italic" fill="#444">α</text>
<text transform="translate(254.2 147.6) scale(1.2 1)" font-family="Liberation Serif, serif" font-size="11.5" font-style="italic" fill="#444">α</text>
<g font-family="Liberation Serif, serif" fill="#444" font-size="12"><text transform="translate(51.4 186.80) scale(1.15 1)" font-style="italic">N</text><text transform="translate(59.9 189.20) scale(1.25 1)" font-size="9" font-style="italic">τ</text><path d="M70 182.50H78.6M70 185.20H78.6" stroke="#444" stroke-width="0.6" fill="none"/><text x="82.8" y="186.80">150</text></g>
<path d="M107.3 183.30H135.9" stroke="#ff0000" stroke-width="0.7" fill="none"/>
<path d="M107.3 181.30v4M135.9 181.30v4" stroke="#ff0000" stroke-width="0.7" fill="none"/>
<path d="M119.70 183.30H123.10M121.40 181.60V185.00" stroke="#ff0000" stroke-width="0.6" fill="none"/>
<g font-family="Liberation Serif, serif" fill="#444" font-size="12"><text transform="translate(51.4 197.00) scale(1.15 1)" font-style="italic">N</text><text transform="translate(59.9 199.40) scale(1.25 1)" font-size="9" font-style="italic">τ</text><path d="M70 192.70H78.6M70 195.40H78.6" stroke="#444" stroke-width="0.6" fill="none"/><text x="82.8" y="197.00">200</text></g>
<path d="M107.3 193.65H135.9" stroke="#00ff00" stroke-width="0.7" fill="none" stroke-dasharray="2.2,1.2"/>
<path d="M107.3 191.65v4M135.9 191.65v4" stroke="#00ff00" stroke-width="0.7" fill="none"/>
<path d="M119.80 192.05L123.00 195.25M119.80 195.25L123.00 192.05" stroke="#00ff00" stroke-width="0.85" fill="none"/>
<g font-family="Liberation Serif, serif" fill="#444" font-size="12"><text transform="translate(51.4 207.20) scale(1.15 1)" font-style="italic">N</text><text transform="translate(59.9 209.60) scale(1.25 1)" font-size="9" font-style="italic">τ</text><path d="M70 202.90H78.6M70 205.60H78.6" stroke="#444" stroke-width="0.6" fill="none"/><text x="82.8" y="207.20">250</text></g>
<path d="M107.3 204.00H135.9" stroke="#0000ff" stroke-width="0.7" fill="none" stroke-dasharray="1.5,1.2"/>
<path d="M107.3 202.00v4M135.9 202.00v4" stroke="#0000ff" stroke-width="0.7" fill="none"/>
<path d="M119.50 204.00H123.30M121.40 202.10V205.90M119.95 202.55L122.85 205.45M119.95 205.45L122.85 202.55" stroke="#0000ff" stroke-width="0.8999999999999999" fill="none"/><circle cx="121.40" cy="204.00" r="0.95" fill="#0000ff"/>
<g font-family="Liberation Serif, serif" fill="#444" font-size="12"><text transform="translate(51.4 217.40) scale(1.15 1)" font-style="italic">N</text><text transform="translate(59.9 219.80) scale(1.25 1)" font-size="9" font-style="italic">τ</text><path d="M70 213.10H78.6M70 215.80H78.6" stroke="#444" stroke-width="0.6" fill="none"/><text x="82.8" y="217.40">300</text></g>
<path d="M107.3 214.35H135.9" stroke="#ff00ff" stroke-width="0.7" fill="none" stroke-dasharray="0.6,1.1"/>
<path d="M107.3 212.35v4M135.9 212.35v4" stroke="#ff00ff" stroke-width="0.7" fill="none"/>
<rect x="119.80" y="212.75" width="3.20" height="3.20" stroke="#ff00ff" stroke-width="0.65" fill="none"/>
</svg>
</body></html>
